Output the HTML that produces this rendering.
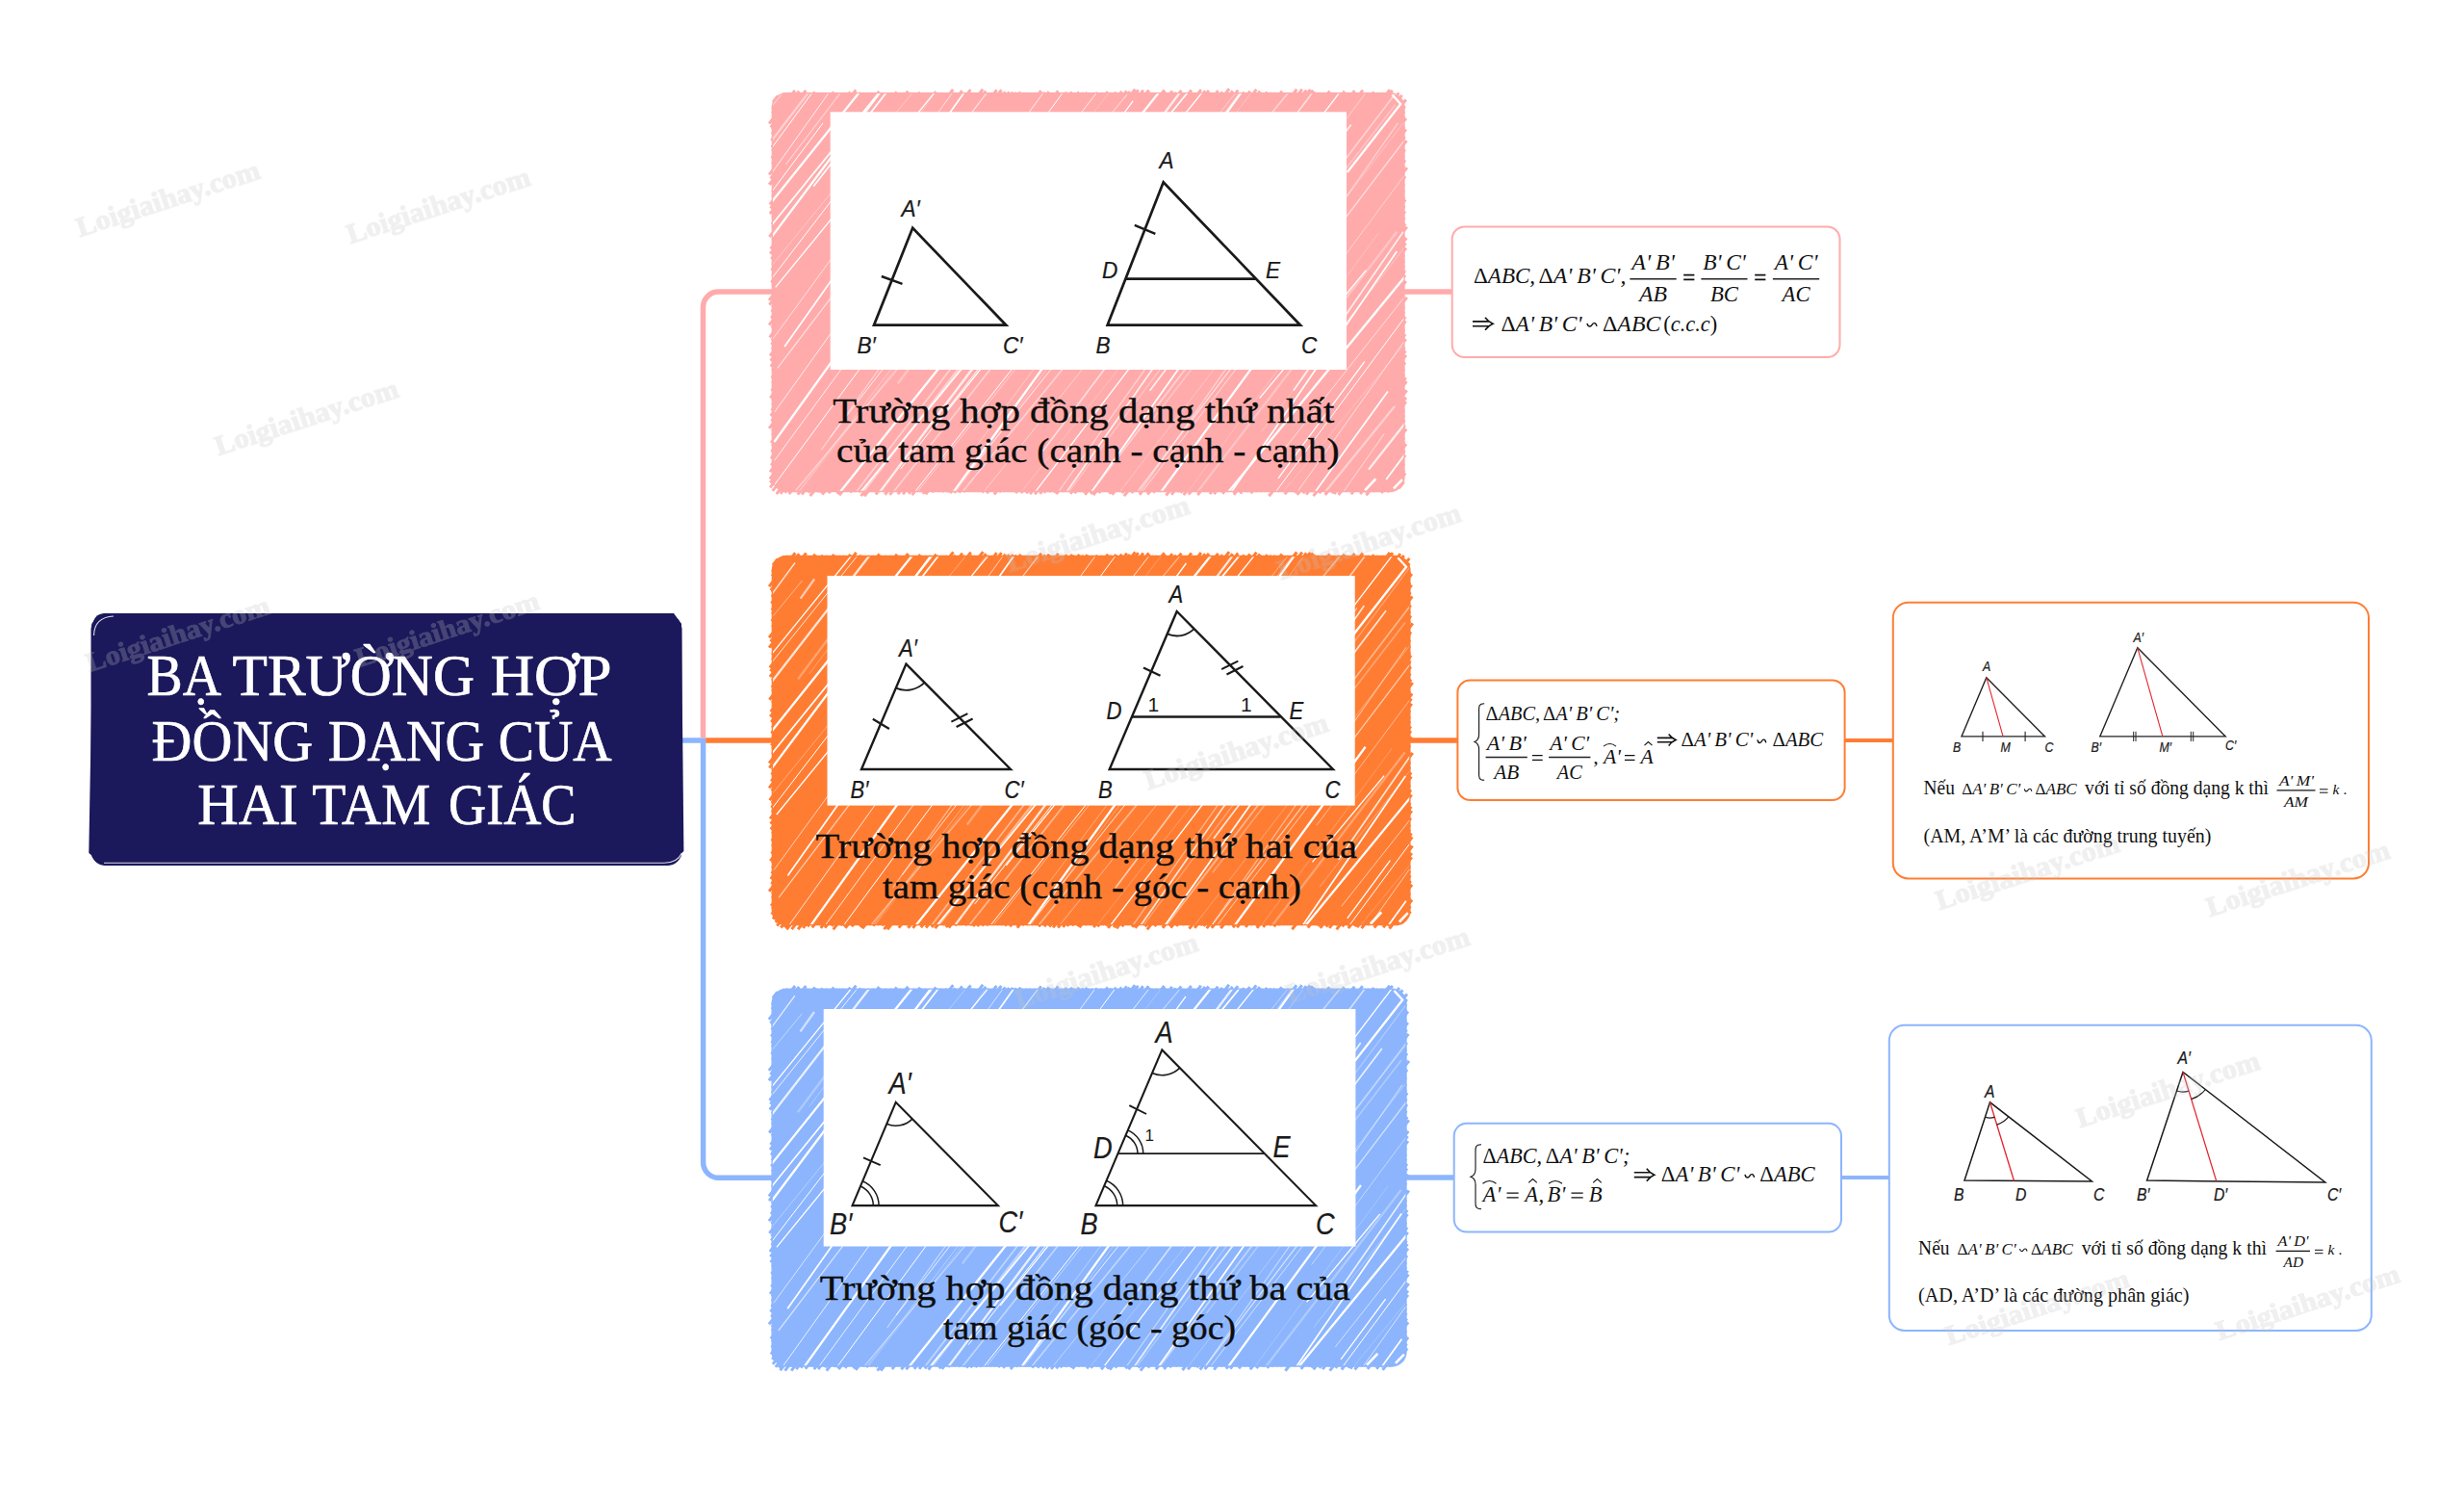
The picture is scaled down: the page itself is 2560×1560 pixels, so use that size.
<!DOCTYPE html>
<html lang="vi"><head><meta charset="utf-8"><title>Ba trường hợp đồng dạng của hai tam giác</title>
<style>html,body{margin:0;padding:0;background:#fff}body{width:2560px;height:1560px;overflow:hidden}svg{display:block}text{white-space:pre}.s{font-family:"Liberation Serif",serif}.n{font-family:"Liberation Sans",sans-serif}</style>
</head><body>
<svg width="2560" height="1560" viewBox="0 0 2560 1560">
<rect width="2560" height="1560" fill="#fff"/>
<g fill="none" stroke-width="5.5">
<path d="M709 769H730.6V1207.3a16 16 0 0 0 16 16H804" stroke="#8cb5fd"/>
<path d="M730.5 766.3V319a16 16 0 0 1 16-16H804" stroke="#ffabab"/>
<path d="M733.2 769H804" stroke="#ff7d33"/>
<path d="M1459 303H1509" stroke="#ffabab"/>
<path d="M1465 769H1515" stroke="#ff7d33"/>
<path d="M1461 1223H1511" stroke="#8cb5fd"/>
</g>
<g fill="none" stroke-width="4">
<path d="M1917 769H1967" stroke="#ff7d33"/>
<path d="M1914 1223H1963" stroke="#8cb5fd"/>
</g>
<rect x="95" y="639" width="613" height="259.5" rx="14" fill="#1b185b" stroke="#1b185b" stroke-width="1"/>
<path d="M108 637H700L708 648L710.4 884L698 895.6H104L92.3 886L96.5 650Q97 638 108 637Z" fill="#1b185b"/>
<path d="M97.5 660Q98 641 118 640" fill="none" stroke="#fff" stroke-width="1.2" opacity=".85"/>
<path d="M108 896.3H690Q704 896 708.3 886" fill="none" stroke="#fff" stroke-width="1.1" opacity=".85"/>
<text x="152.5" y="722.1" class="s" font-size="61.8" textLength="77.5" lengthAdjust="spacingAndGlyphs" fill="#fff" stroke="#fff" stroke-width="0.7">BẠ</text>
<text x="241.5" y="722.1" class="s" font-size="61.8" textLength="251.4" lengthAdjust="spacingAndGlyphs" fill="#fff" stroke="#fff" stroke-width="0.7">TRƯỜNG</text>
<text x="509.5" y="722.1" class="s" font-size="61.8" textLength="126.2" lengthAdjust="spacingAndGlyphs" fill="#fff" stroke="#fff" stroke-width="0.7">HỢP</text>
<text x="157.6" y="790" class="s" font-size="61.8" textLength="167.6" lengthAdjust="spacingAndGlyphs" fill="#fff" stroke="#fff" stroke-width="0.7">ĐỒNG</text>
<text x="340.8" y="790" class="s" font-size="61.8" textLength="162.4" lengthAdjust="spacingAndGlyphs" fill="#fff" stroke="#fff" stroke-width="0.7">DẠNG</text>
<text x="517.8" y="790" class="s" font-size="61.8" textLength="117.9" lengthAdjust="spacingAndGlyphs" fill="#fff" stroke="#fff" stroke-width="0.7">CỦA</text>
<text x="205.2" y="856.2" class="s" font-size="61.8" textLength="104.5" lengthAdjust="spacingAndGlyphs" fill="#fff" stroke="#fff" stroke-width="0.7">HAI</text>
<text x="324.3" y="856.2" class="s" font-size="61.8" textLength="123.1" lengthAdjust="spacingAndGlyphs" fill="#fff" stroke="#fff" stroke-width="0.7">TAM</text>
<text x="466" y="856.2" class="s" font-size="61.8" textLength="132.5" lengthAdjust="spacingAndGlyphs" fill="#fff" stroke="#fff" stroke-width="0.7">GIÁC</text>
<clipPath id="cp1"><rect x="802.3" y="96.7" width="656.7" height="413.8" rx="15"/></clipPath>
<rect x="802.3" y="96.7" width="656.7" height="413.8" rx="15" fill="#ffabab"/>
<path d="M803 106.2L807.7 100.2M803.8 105.1L808 99.8M802.3 113.1L807.2 106.8M809.9 103.4L815 96.8M802.2 117.6L807.2 111.1M813.3 103.4L818.2 97.1M799.1 128.3L807.2 117.8M818.5 103.4L825.9 93.9M800.7 132.3L807.2 124M823.3 103.4L830.1 94.7M802.3 134.6L807.2 128.3M826.7 103.4L831.6 97.1M801.9 139.2L807.2 132.4M829.9 103.4L837.3 93.9M801.4 146L807.2 138.6M834.7 103.4L839.6 97.1M801.8 152.8L807.2 145.9M840.4 103.4L846.7 95.3M802.3 157L807.2 150.7M844.2 103.4L849.1 97.1M801.7 164.3L807.2 157.2M849.3 103.4L854.8 96.4M802.3 170.3L807.2 164M854.6 103.4L859.5 97.1M799.1 181.4L807.2 171.1M860.1 103.4L866.3 95.4M800.6 185.6L807.2 177.2M864.9 103.4L869.8 97.1M799.1 191.8L807.2 181.5M868.2 103.4L873.2 97.1M802.3 192.7L807.2 186.4M872 103.4L877 97.1M802.3 199.3L807.2 193M877.2 103.4L883.4 95.5M802.3 204.8L807.2 198.5M881.5 103.4L889.3 93.5M799.8 212.5L807.2 203M885 103.4L889.9 97.1M800.5 216.4L807.2 207.9M888.9 103.4L894.5 96.2M799.9 222L807.2 212.6M892.6 103.4L897.5 97.1M802.3 226.2L807.2 219.9M898.3 103.4L903.2 97.1M802 233.2L807.2 226.5M903.4 103.4L908.3 97.1M802.3 237.1L807.2 230.8M906.8 103.4L913.4 94.9M799.4 246L807.2 236.1M910.9 103.4L915.9 96.9M802.3 249.2L807.2 242.9M916.2 103.4L921.2 97.1M800.7 258.3L807.2 249.9M921.7 103.4L926.6 97.1M800.2 263.6L807.2 254.6M925.4 103.4L931.7 95.3M801.3 269.2L807.2 261.6M930.8 103.4L935.7 97.1M802.3 275L807.2 268.7M936.4 103.4L943.3 94.6M801.5 280.9L807.2 273.6M940.2 103.4L945.2 97.1M802.3 286.3L807.2 280M945.2 103.4L950.2 97.1M801.3 293.5L807.2 285.9M949.8 103.4L955.9 95.6M802.3 296.9L807.2 290.6M953.5 103.4L958.4 97.1M802.3 302.4L807.2 296.1M957.8 103.4L962.7 97.1M799.1 311.9L807.2 301.4M961.9 103.4L966.9 97.1M799.3 316.7L807.2 306.6M966 103.4L972.4 95.2M802.3 318.9L807.2 312.6M971 103L975.9 96.7M801.6 323.9L807.2 316.7M973.9 103.4L978.8 97.1M801.2 330.5L807.2 322.8M978.7 103.4L983.8 96.8M799.1 337.6L807.2 327.2M982 103.4L990.2 93M801.8 340.4L807.2 333.5M987 103.4L992.5 96.3M799.6 350.3L807.2 340.5M992.5 103.4L999.6 94.2M801.8 353.4L807.2 346.4M997.4 103L1002.6 96.4M801.5 358L807.2 350.7M1000.5 103.4L1008.4 93.2M802 362.8L807.2 356.1M1004.6 103.4L1010 96.6M800.1 369.5L807.2 360.4M1008.3 103L1013.2 96.7M800.6 374.8L807.2 366.4M1012.7 103.4L1021.1 92.7M800.8 380.6L807.2 372.5M1017.4 103.4L1024.2 94.7M802.3 385L807.2 378.7M1022.3 103.4L1027.3 97.1M801.7 392.7L807.2 385.7M1028.1 103L1035.6 93.4M802.3 398.2L807.2 391.9M1033 103L1040.5 93.4M801.6 406L807.2 398.9M1038.1 103.4L1044.4 95.3M800.3 413.4L807.2 404.5M1042.8 103L1048.7 95.5M802.3 415.8L807.2 409.5M1046.4 103.4L1052.4 95.7M802.3 420.8L807.2 414.5M1050.2 103.4L1055.9 96.2M801.7 426.6L807.2 419.5M1054.2 103.4L1060.4 95.5M800.7 432L807.2 423.7M1057.5 103.4L1062.4 97.1M801.5 437.4L807.2 430.1M1062.4 103.4L1067.4 97.1M799.1 444.9L807.2 434.6M1066.3 103L1071.2 96.7M802.3 447.6L807.2 441.3M1071.2 103.4L1076.2 97.1M802.2 452L807.2 445.5M1074.5 103.4L1081.7 94.3M801.1 460L807.2 452.2M1079.8 103.4L1085.6 95.9M802.3 463.2L807.2 456.9M1083.4 103.4L1089.8 95.2M801.5 469.2L807.2 461.8M1087.2 103.4L1092.2 97M801 476.3L807.2 468.3M1092.3 103.4L1099.3 94.4M801.1 483.3L807.2 475.4M1098.2 103L1103.1 96.7M800 490.2L807.2 480.9M1102.2 103.4L1108.2 95.7M799.8 497.4L807.2 487.9M1107.6 103.4L1113.7 95.5M800.2 501.5L807.5 492.2M1111.3 103.4L1116.4 96.9M800.1 506.4L808.8 495.4M1115 103.4L1121.2 95.5M802.7 509.8L811.2 498.9M1120.5 103L1125.9 96.2M808 507.3L813.2 500.6M1123.6 103.4L1129.5 95.8M806.7 513.1L815.2 502.2M1126.8 103.4L1131.7 97.1M810.9 512.9L818.3 503.4M1130.8 103.4L1135.8 97.1M815.3 511.8L821.6 503.8M1134.7 103L1140.2 96M819.8 513.2L826.8 504.2M1140 103.4L1144.9 97.1M826.4 510.5L831.3 504.2M1144.5 103.4L1150.9 95.2M828.7 513.7L836.1 504.2M1149.3 103.4L1154.6 96.6M833 513.5L840.3 504.2M1153.4 103.4L1159.5 95.6M840 511.7L845.9 504.2M1159.3 103L1165.6 95M841.7 515.2L850.3 504.2M1163.5 103.4L1170.6 94.3M849.2 511L854.5 504.2M1168 103L1174 95.2M852.1 511.6L857.9 504.2M1171.3 103L1179.4 92.6M854.3 513.7L861.7 504.2M1175.2 103L1182.7 93.4M860.9 512.2L867.2 504.2M1180.6 103L1187.9 93.7M867.8 510.5L872.7 504.2M1186.2 103L1193.5 93.6M869.8 512.8L876.5 504.2M1189.9 103L1195.5 95.9M872 514.3L879.9 504.2M1193.3 103L1198.3 96.7M879.4 510.5L884.4 504.2M1197.8 103L1202.7 96.7M883.2 511.5L888.9 504.2M1202.3 103L1209.8 93.5M887.5 510.5L892.5 504.2M1205.9 103L1211.6 95.8M892.3 511.2L897.8 504.2M1211.2 103L1218 94.3M894.5 515.1L903 504.2M1216.5 103L1222 95.9M898.1 515.2L906.8 504.2M1220.2 103L1227.4 93.8M906.8 510.5L911.8 504.2M1225.2 103L1230.1 96.7M909.8 513.5L917.1 504.2M1230.5 103L1237.9 93.5M917 510.5L922 504.2M1235.4 103L1240.3 96.7M919.4 513.7L926.9 504.2M1240.3 103L1247.9 93.2M924.5 513.8L932 504.2M1245.4 103L1252.2 94.4M930.5 510.5L935.4 504.2M1248.9 103L1255.9 94M932.8 513.2L939.9 504.2M1253.3 103L1258.3 96.7M938 513.4L945.2 504.2M1258.6 103L1265.6 94.1M944 512.9L950.8 504.2M1264.2 103L1270.2 95.4M947.5 514.1L955.3 504.2M1268.7 103L1277.1 92.3M955.7 510.5L960.6 504.2M1274 103L1280.8 94.4M958.8 512.9L965.6 504.2M1279.1 103L1286.3 93.7M961.7 513.4L968.8 504.2M1282.3 103L1287.3 96.6M968.1 511.2L973.6 504.2M1287.1 103L1292.8 95.6M973.9 510.5L978.8 504.2M1292.3 103L1298.8 94.7M978.8 511L984.1 504.2M1297.5 103L1305.4 92.9M983.8 511L989.2 504.2M1302.6 103L1309.1 94.7M987.1 512.1L993.2 504.2M1306.7 103L1311.6 96.7M991.3 511.9L997.3 504.2M1310.7 103L1316.7 95.3M996.4 511.6L1002.2 504.2M1315.6 103L1320.9 96.2M1000.9 511.2L1006.3 504.2M1319.8 103L1324.9 96.4M1007.1 510.5L1012 504.2M1325.4 103L1332 94.7M1011.2 510.5L1016.2 504.2M1329.6 103L1334.5 96.7M1015.4 510.5L1020.3 504.2M1333.7 103L1338.7 96.7M1020.1 511.5L1025.8 504.2M1339.2 103L1347.3 92.7M1025.2 512.2L1031.5 504.2M1344.9 103L1352.9 92.8M1031.6 510.5L1036.6 504.2M1350 103L1357.3 93.6M1032.9 513.5L1040.1 504.2M1353.6 103L1361.4 93M1038.1 511L1043.5 504.2M1356.9 103L1364.2 93.7M1042.6 510.5L1047.6 504.2M1361 103L1366.7 95.7M1047.6 510.5L1052.6 504.2M1366 103L1370.9 96.7M1051.4 510.5L1056.4 504.2M1369.8 103L1374.7 96.7M1055.2 512.2L1061.4 504.2M1374.9 103L1381.5 94.6M1060.9 512.1L1067.1 504.2M1380.6 103L1385.5 96.7M1066.2 512.4L1072.6 504.2M1386 103L1391 96.7M1070.1 513.2L1077.1 504.2M1390.5 103L1397 94.8M1075.1 513.4L1082.3 504.2M1395.8 103L1400.7 96.7M1080.4 512.8L1087.1 504.2M1400.5 103L1407.5 94.1M1084.6 511.8L1090.6 504.2M1404 103L1409 96.7M1089.8 511.2L1095.2 504.2M1408.7 103L1415.9 93.7M1095 511.6L1100.8 504.2M1414.3 103L1419.2 96.7M1097.4 513.1L1104.3 504.2M1417.7 103L1422.7 96.6M1103 510.8L1108.2 504.2M1421.6 103L1427.6 95.4M1108.3 510.5L1113.2 504.2M1426.7 103L1431.6 96.7M1112.1 512.9L1118.9 504.2M1432.3 103L1437.3 96.7M1116.4 512.3L1122.8 504.2M1436.2 103L1444 93.1M1121.2 510.5L1126.1 504.2M1439.2 103.4L1446.7 93.8M1125 511.4L1130.7 504.2M1443.5 103.8L1448.4 97.5M1127.2 513.8L1134.7 504.2M1446.3 105.4L1453.4 96.3M1133.1 513L1140 504.2M1449.7 107.7L1456.6 98.9M1136 514.2L1143.8 504.2M1451.6 110.2L1456.9 103.4M1141.6 512.1L1147.8 504.2M1453.2 113.3L1460.8 103.5M1147 510.5L1151.9 504.2M1453.8 117.8L1459.7 110.3M1150.3 510.5L1155.3 504.2M1454.1 121.7L1459.1 115.3M1152.4 512.8L1159.2 504.2M1454.1 126.8L1459 120.5M1155.4 513.7L1162.9 504.2M1454.1 131.5L1460.9 122.8M1162.9 510.5L1167.8 504.2M1454.1 137.8L1459 131.5M1165.7 512.1L1171.9 504.2M1454.1 143.1L1460.8 134.4M1167.9 515.2L1176.5 504.2M1454.1 149L1459.6 141.9M1175.6 512L1181.7 504.2M1454.1 155.6L1461.4 146.2M1182.3 510.5L1187.2 504.2M1454.1 162.6L1459.8 155.3M1183.9 513.7L1191.4 504.2M1454.1 167.9L1459 161.6M1190.6 511.1L1196 504.2M1454.1 173.8L1460 166.3M1192.3 513.5L1199.6 504.2M1454.1 178.5L1459 172.2M1198.1 511.8L1204.1 504.2M1454.1 184.2L1461.9 174.2M1204.4 510.5L1209.3 504.2M1454.1 190.9L1460.1 183.1M1209.5 510.5L1214.5 504.2M1454.1 197.5L1459 191.2M1211.5 514.5L1219.5 504.2M1454.1 204L1459 197.7M1217.1 513.7L1224.6 504.2M1454.1 210.4L1459 204.1M1223.1 510.9L1228.3 504.2M1454.1 215.2L1460.2 207.3M1226.4 511.8L1232.3 504.2M1454.1 220.4L1459.4 213.6M1229.7 514L1237.3 504.2M1454.1 226.8L1459.9 219.3M1234.8 513.6L1242.2 504.2M1454.1 233L1459.4 226.2M1242.7 510.7L1247.8 504.2M1454.1 240.2L1460.2 232.3M1244.3 514.1L1252 504.2M1454.1 245.6L1461.8 235.7M1251.2 510.5L1256.2 504.2M1454.1 250.9L1459 244.6M1255.5 510.5L1260.4 504.2M1454.1 256.3L1461.3 247.1M1256.9 513.1L1263.9 504.2M1454.1 260.8L1460.6 252.4M1261.3 513.1L1268.2 504.2M1454.1 266.3L1460.9 257.5M1266.9 510.5L1271.9 504.2M1454.1 271L1459 264.7M1270.1 512.8L1276.9 504.2M1454.1 277.4L1459 271.1M1275.6 510.5L1280.5 504.2M1454.1 282L1459 275.7M1280.3 511L1285.6 504.2M1454.1 288.5L1459.9 281.1M1281.9 513.8L1289.4 504.2M1454.1 293.5L1460 285.9M1288.4 512.7L1295 504.2M1454.1 300.6L1460.8 292M1295 510.9L1300.2 504.2M1454.1 307.3L1459 301M1299.6 512.3L1305.9 504.2M1454.1 314.6L1459 308.3M1304 510.8L1309.1 504.2M1454.1 318.7L1461.8 308.8M1308.9 510.5L1313.8 504.2M1454.1 324.7L1459 318.4M1312.9 510.5L1317.8 504.2M1454.1 329.8L1459 323.5M1318.6 510.5L1323.5 504.2M1454.1 337.1L1460.3 329.1M1318.4 515.2L1327.1 504.2M1454.1 341.6L1460.5 333.4M1327.4 510.5L1332.3 504.2M1454.1 348.4L1459 342.1M1332.4 510.5L1337.3 504.2M1454.1 354.8L1460.1 347.1M1334.8 513.4L1342 504.2M1454.1 360.7L1460.7 352.2M1342.6 510.5L1347.5 504.2M1454.1 367.8L1459.4 360.9M1345.3 511.8L1351.2 504.2M1454.1 372.5L1460.4 364.4M1347.7 513.8L1355.1 504.2M1454.1 377.6L1460.9 368.9M1353.8 512.4L1360.1 504.2M1454.1 384L1460 376.4M1357.1 513.7L1364.5 504.2M1454.1 389.5L1459 383.2M1363.5 510.7L1368.6 504.2M1454.1 394.8L1459 388.5M1364.6 515.2L1373.2 504.2M1454.1 400.7L1460.7 392.2M1370.6 512.3L1376.9 504.2M1454.1 405.4L1461.4 396M1375.6 510.9L1380.8 504.2M1454.1 410.5L1459 404.1M1376.8 514L1384.5 504.2M1454.1 415.2L1461.7 405.4M1383.4 512L1389.5 504.2M1454.1 421.6L1460.9 412.8M1386 513.1L1392.9 504.2M1454.1 425.9L1460.9 417.2M1390.6 514L1398.2 504.2M1454.1 432.7L1459 426.4M1397.1 510.5L1402 504.2M1454.1 437.5L1459 431.2M1401.3 510.5L1406.2 504.2M1454.1 442.9L1459.4 436.1M1403.8 513.4L1411 504.2M1454.1 449.1L1459.8 441.8M1410.3 510.5L1415.2 504.2M1454.1 454.5L1461.1 445.5M1413.2 513.2L1420.2 504.2M1454.1 460.8L1459 454.5M1417.7 511.4L1423.4 504.2M1454.1 464.9L1459 458.6M1419.5 514.4L1427.5 504.2M1454.1 470.2L1461.1 461.2M1425.9 510.8L1431.1 504.2M1454.1 474.8L1459.5 467.8M1430.6 510.5L1435.5 504.2M1454.1 480.5L1460.2 472.7M1435.1 512L1441.2 504.2M1454.1 487.7L1459 481.4M1441.4 511.2L1446.8 504.2M1454.1 494.9L1459 488.6M1445.6 510.1L1450.5 503.8M1454.1 499.2L1460.2 491.4M1453.3 507.2L1457.5 501.9M1453.5 507L1458.6 500.5" stroke="#ffabab" stroke-width="3" fill="none"/>
<g clip-path="url(#cp1)" stroke="#fff" fill="none">
<path d="M798.6 114.4L815.9 93.4M1182.5 516.3L1373.4 266.4M1327.6 475L1463.2 303.4M1391.7 516.5L1438.2 450.5" stroke-width="1" opacity="0.6"/>
<path d="M798.8 149.7L843 92.2M893.1 515.7L1155.7 177.2M1373.9 514.5L1449.1 421.9" stroke-width="2.3" opacity="0.45"/>
<path d="M799.6 156.7L847.2 91.6M799.5 202.2L855 127.8M799.3 292.4L908.9 149.5M804.6 503.6L1110.4 87.9M935.7 487L1157.4 202.5M947.8 514.3L1216.6 174.8M1320.8 517.1L1460.2 328.6" stroke-width="1" opacity="1"/>
<path d="M800.6 181.5L865 90.8M804.9 427.8L1017.6 130.5M804.7 478.2L1090.6 87.3M862.4 454.3L1143 91.7M988.2 513.7L1298.2 124.7" stroke-width="0.8" opacity="1"/>
<path d="M816.4 170.8L876.6 92M853.3 467.4L1036.9 209.8M826.7 509.5L1171.1 98.1M1091.9 521.8L1354.7 150M1175.9 522.8L1452.5 127.6" stroke-width="1.3" opacity="0.45"/>
<path d="M797.9 214.5L895.2 92.9M800.1 248.1L917.8 91.2M804.4 459L1002.6 182.3M870.8 513.5L1205.9 93.7M983.1 521.5L1297 85.7M1200.8 518.4L1394.7 253.5M1274.5 513L1465.5 280.2" stroke-width="2.3" opacity="1"/>
<path d="M797.3 239.2L915.5 93.4M845.3 193.5L923.9 92.2M815.1 359.9L1007.8 87.5M894 511.4L1234.2 95.8M1127.1 520.6L1345.8 211.8M1272.5 521L1451.3 261M1362.1 516.8L1441.9 406.4M1440.2 497.9L1462.3 468.3" stroke-width="1.7" opacity="1"/>
<path d="M796.7 282.2L950 93.9M824.3 517.7L1115.4 132M1014 464L1293.4 88.6" stroke-width="0.8" opacity="0.45"/>
<path d="M805.7 298.4L972.6 94.2M1012.9 328.6L1177.1 104.8M970.4 443.8L1250.9 93.7M1070.8 517.2L1396.4 90M1308.6 413.6L1419.3 280.6M1328 496.8L1417.7 375.7" stroke-width="1.3" opacity="1"/>
<path d="M863 251L976.5 89.2M826.7 515.8L1155.6 91.8M1058.3 514.5L1337.6 160.8M1228.6 518.2L1431.9 242.5M1330.8 513.7L1457.7 359" stroke-width="0.8" opacity="0.3"/>
<path d="M802.8 352.2L994.8 89.2M1342.8 518L1459 354.4" stroke-width="0.8" opacity="0.8"/>
<path d="M807.7 382.4L1029.4 90.9M1176.8 517.1L1460.2 144.3" stroke-width="1.3" opacity="0.6"/>
<path d="M932.9 398.2L1048.9 244.4M1240 516.2L1451.2 240.8" stroke-width="2.3" opacity="0.3"/>
<path d="M885.4 516.3L1131.1 196.3M925.5 514.4L1221.5 139.6M999.3 511.6L1339 95.6M1129.4 517.1L1453.1 92.9" stroke-width="1.7" opacity="0.45"/>
<path d="M908.6 518.3L1231.3 88.9M1422 487.6L1462.8 435.9" stroke-width="2.3" opacity="0.8"/>
<path d="M951 513.5L1286.1 93.7M1020.2 513.1L1298.3 168" stroke-width="1" opacity="0.45"/>
<path d="M986.7 519.5L1306.2 87.7M1159.1 516.4L1461.2 123.6M1310.7 448.2L1462.4 252.8" stroke-width="1" opacity="0.3"/>
<path d="M1083.3 468.7L1368.8 89.3" stroke-width="1.7" opacity="0.6"/>
<path d="M1100 522.6L1365.6 142.8M1194.6 405.8L1403.7 129.6M1344 405.4L1457.9 240.8" stroke-width="1.7" opacity="0.8"/>
<path d="M1104.4 519L1425.1 88.2" stroke-width="1.3" opacity="0.3"/>
<path d="M1193.5 441.1L1449.6 108.7" stroke-width="1.7" opacity="0.3"/>
<path d="M1323.4 365L1460.4 180.4" stroke-width="0.8" opacity="0.6"/>
<path d="M1446.4 98.4L1455.2 108L1399.8 178.9" stroke-width="2.3" stroke-linejoin="miter"/>
<path d="M1447.9 507.4L1456.9 498.1M1418 509.4L1429.3 497.4" stroke-width="2.6"/>
</g>
<rect x="802.3" y="96.7" width="656.7" height="413.8" rx="15" fill="none" stroke="#ffabab" stroke-width="1.3"/>
<clipPath id="cp2"><rect x="802.3" y="577.5" width="662.6" height="383.1" rx="15"/></clipPath>
<rect x="802.3" y="577.5" width="662.6" height="383.1" rx="15" fill="#ff7d33"/>
<path d="M803 587L807.7 581M803.8 585.9L808 580.6M802.3 593.9L807.2 587.6M809.9 584.2L815 577.6M802.2 598.4L807.2 591.9M813.6 583.8L818.5 577.5M799.1 609.1L807.2 598.6M818.8 583.8L826.3 574.3M800.7 613.1L807.2 604.8M823.6 583.8L830.4 575.2M802.3 615.4L807.2 609.1M827 583.8L831.9 577.5M801.9 620L807.2 613.2M830.2 583.8L837.6 574.3M801.4 626.8L807.2 619.4M835 583.8L839.9 577.5M801.8 633.6L807.2 626.7M840.7 583.8L847 575.7M802.3 637.8L807.2 631.5M844.5 583.8L849.4 577.5M801.7 645.1L807.2 638M849.6 583.8L855.1 576.8M802.3 651.1L807.2 644.8M854.9 583.8L859.8 577.5M799.1 662.2L807.2 651.9M860.4 583.8L866.6 575.8M800.6 666.4L807.2 658M865.2 583.8L870.1 577.5M799.1 672.6L807.2 662.3M868.6 583.8L873.5 577.5M802.3 673.5L807.2 667.2M872.4 583.8L877.3 577.5M802.3 680.1L807.2 673.8M877.5 583.8L883.7 575.9M802.3 685.6L807.2 679.3M881.9 583.8L889.6 573.9M799.8 693.3L807.2 683.8M885.3 583.8L890.2 577.5M800.5 697.2L807.2 688.7M889.2 583.8L894.8 576.6M799.9 702.8L807.2 693.4M892.9 583.8L897.8 577.5M802.3 707L807.2 700.7M898.6 583.8L903.5 577.5M802 714L807.2 707.3M903.7 583.8L908.6 577.5M802.3 717.9L807.2 711.6M907.1 583.8L913.7 575.3M799.4 726.8L807.2 716.9M911.2 583.8L916.2 577.3M802.3 730L807.2 723.7M916.6 583.8L921.5 577.5M800.7 739.1L807.2 730.7M922 583.8L927 577.5M800.2 744.4L807.2 735.4M925.7 583.8L932 575.7M801.3 750L807.2 742.4M931.1 583.8L936 577.5M802.3 755.8L807.2 749.5M936.7 583.8L943.6 575M801.5 761.7L807.2 754.4M940.5 583.8L945.5 577.5M802.3 767.1L807.2 760.8M945.5 583.8L950.5 577.5M801.3 774.3L807.2 766.7M950.1 583.8L956.2 576M802.3 777.7L807.2 771.4M953.8 583.8L958.7 577.5M802.3 783.2L807.2 776.9M958.1 583.8L963 577.5M799.1 792.7L807.2 782.2M962.2 583.8L967.2 577.5M799.3 797.5L807.2 787.4M966.3 583.8L972.7 575.6M802.3 799.7L807.2 793.4M971 583.8L975.9 577.5M801.6 804.7L807.2 797.5M974.2 583.8L979.1 577.5M801.2 811.3L807.2 803.6M979 583.8L984.1 577.2M799.1 818.4L807.2 808M982.3 583.8L990.5 573.4M801.8 821.2L807.2 814.3M987.3 583.8L992.8 576.7M799.6 831.1L807.2 821.3M992.8 583.8L999.9 574.6M801.8 834.2L807.2 827.2M997.4 583.8L1002.6 577.2M801.5 838.8L807.2 831.5M1000.8 583.8L1008.7 573.6M802 843.6L807.2 836.9M1004.9 583.8L1010.3 577M800.1 850.3L807.2 841.2M1008.3 583.8L1013.2 577.5M800.6 855.6L807.2 847.2M1013 583.8L1021.4 573.1M800.8 861.4L807.2 853.3M1017.7 583.8L1024.5 575.1M802.3 865.8L807.2 859.5M1022.6 583.8L1027.6 577.5M801.7 873.5L807.2 866.5M1028.1 583.8L1035.6 574.2M802.3 879L807.2 872.7M1033 583.8L1040.5 574.2M801.6 886.8L807.2 879.7M1038.4 583.8L1044.7 575.7M800.3 894.2L807.2 885.3M1042.8 583.8L1048.7 576.3M802.3 896.6L807.2 890.3M1046.7 583.8L1052.7 576.1M802.3 901.6L807.2 895.3M1050.6 583.8L1056.2 576.6M801.7 907.4L807.2 900.3M1054.5 583.8L1060.7 575.9M800.7 912.8L807.2 904.5M1057.8 583.8L1062.7 577.5M801.5 918.2L807.2 910.9M1062.8 583.8L1067.7 577.5M799.1 925.7L807.2 915.4M1066.3 583.8L1071.2 577.5M802.3 928.4L807.2 922.1M1071.5 583.8L1076.5 577.5M802.2 932.8L807.2 926.3M1074.8 583.8L1082 574.7M801.1 940.8L807.2 933M1080.1 583.8L1085.9 576.3M802.3 944L807.2 937.7M1083.7 583.8L1090.1 575.6M801.7 949.7L807.5 942.2M1087.6 583.8L1092.5 577.4M803 954.5L809.4 946.4M1092.6 583.8L1099.6 574.8M805.8 958L812.1 950M1098.2 583.8L1103.1 577.5M807.3 961.6L814.9 951.9M1102.5 583.8L1108.5 576.2M811.3 963.5L819.1 953.5M1107.9 583.8L1114.1 575.9M815.2 963.2L822.5 953.9M1111.6 583.8L1116.7 577.3M817.2 965.3L825.9 954.3M1115.3 583.8L1121.5 575.9M822.5 965.2L831 954.3M1120.5 583.8L1125.9 577M829.3 960.9L834.4 954.3M1123.9 583.8L1129.8 576.2M829.1 965.2L837.7 954.3M1127.1 583.8L1132 577.5M834.3 963.8L841.7 954.3M1131.1 583.8L1136.1 577.5M839 962.3L845.2 954.3M1134.7 583.8L1140.2 576.8M843.8 963.3L850.8 954.3M1140.3 583.8L1145.2 577.5M850.4 960.6L855.3 954.3M1144.8 583.8L1151.2 575.6M852.7 963.8L860.1 954.3M1149.6 583.8L1154.9 577M857 963.6L864.3 954.3M1153.7 583.8L1159.8 576M864 961.8L869.9 954.3M1159.3 583.8L1165.6 575.8M865.7 965.3L874.3 954.3M1163.8 583.8L1170.9 574.7M873.2 961.1L878.5 954.3M1168 583.8L1174 576M876.1 961.7L881.9 954.3M1171.3 583.8L1179.4 573.4M878.3 963.8L885.7 954.3M1175.2 583.8L1182.7 574.2M884.9 962.3L891.2 954.3M1180.6 583.8L1187.9 574.5M891.8 960.6L896.7 954.3M1186.2 583.8L1193.5 574.4M893.7 962.9L900.4 954.3M1189.9 583.8L1195.5 576.7M896 964.4L903.9 954.3M1193.3 583.8L1198.3 577.5M903.4 960.6L908.4 954.3M1197.8 583.8L1202.7 577.5M907.1 961.6L912.9 954.3M1202.3 583.8L1209.8 574.3M911.5 960.6L916.4 954.3M1205.9 583.8L1211.6 576.6M916.3 961.3L921.8 954.3M1211.2 583.8L1218 575.1M918.5 965.2L927 954.3M1216.5 583.8L1222 576.7M922.1 965.3L930.7 954.3M1220.2 583.8L1227.4 574.6M930.8 960.6L935.8 954.3M1225.2 583.8L1230.1 577.5M933.8 963.6L941 954.3M1230.5 583.8L1237.9 574.3M941 960.6L946 954.3M1235.4 583.8L1240.3 577.5M943.4 963.8L950.9 954.3M1240.3 583.8L1247.9 574M948.4 963.9L956 954.3M1245.4 583.8L1252.2 575.2M954.5 960.6L959.4 954.3M1248.9 583.8L1255.9 574.8M956.8 963.3L963.9 954.3M1253.3 583.8L1258.3 577.5M962 963.5L969.2 954.3M1258.6 583.8L1265.6 574.9M967.9 963L974.8 954.3M1264.2 583.8L1270.2 576.2M971.5 964.2L979.2 954.3M1268.7 583.8L1277.1 573.1M979.6 960.6L984.6 954.3M1274 583.8L1280.8 575.2M982.8 963L989.6 954.3M1279.1 583.8L1286.3 574.5M985.7 963.5L992.8 954.3M1282.3 583.8L1287.3 577.4M992.1 961.3L997.6 954.3M1287.1 583.8L1292.8 576.4M997.9 960.6L1002.8 954.3M1292.3 583.8L1298.8 575.5M1002.8 961.1L1008 954.3M1297.5 583.8L1305.4 573.7M1007.8 961.1L1013.2 954.3M1302.6 583.8L1309.1 575.5M1011.1 962.2L1017.2 954.3M1306.7 583.8L1311.6 577.5M1015.3 962L1021.3 954.3M1310.7 583.8L1316.7 576.1M1020.4 961.7L1026.1 954.3M1315.6 583.8L1320.9 577M1024.9 961.3L1030.3 954.3M1319.8 583.8L1324.9 577.2M1031 960.6L1036 954.3M1325.4 583.8L1332 575.5M1035.2 960.6L1040.2 954.3M1329.6 583.8L1334.5 577.5M1039.4 960.6L1044.3 954.3M1333.7 583.8L1338.7 577.5M1044.1 961.6L1049.8 954.3M1339.2 583.8L1347.3 573.5M1049.2 962.3L1055.5 954.3M1344.9 583.8L1352.9 573.6M1055.6 960.6L1060.6 954.3M1350 583.8L1357.3 574.4M1056.9 963.6L1064.1 954.3M1353.6 583.8L1361.4 573.8M1062.1 961.1L1067.5 954.3M1356.9 583.8L1364.2 574.5M1066.6 960.6L1071.6 954.3M1361 583.8L1366.7 576.5M1071.6 960.6L1076.5 954.3M1366 583.8L1370.9 577.5M1075.4 960.6L1080.3 954.3M1369.8 583.8L1374.7 577.5M1079.2 962.3L1085.4 954.3M1374.9 583.8L1381.5 575.4M1084.9 962.2L1091.1 954.3M1380.6 583.8L1385.5 577.5M1090.2 962.5L1096.6 954.3M1386 583.8L1391 577.5M1094.1 963.3L1101.1 954.3M1390.5 583.8L1397 575.6M1099.1 963.5L1106.3 954.3M1395.8 583.8L1400.7 577.5M1104.4 962.9L1111.1 954.3M1400.5 583.8L1407.5 574.9M1108.6 961.9L1114.6 954.3M1404 583.8L1409 577.5M1113.8 961.3L1119.2 954.3M1408.7 583.8L1415.9 574.5M1119 961.7L1124.8 954.3M1414.3 583.8L1419.2 577.5M1121.3 963.2L1128.3 954.3M1417.7 583.8L1422.7 577.4M1127 960.9L1132.1 954.3M1421.6 583.8L1427.6 576.2M1132.3 960.6L1137.2 954.3M1426.7 583.8L1431.6 577.5M1136.1 963L1142.9 954.3M1432.3 583.8L1437.3 577.5M1140.4 962.4L1146.7 954.3M1436.2 583.8L1444 573.9M1145.2 960.6L1150.1 954.3M1439.6 583.8L1447 574.2M1149 961.5L1154.7 954.3M1444.1 583.8L1449.1 577.5M1151.2 963.9L1158.7 954.3M1447.9 584.2L1455 575.1M1157.1 963.1L1163.9 954.3M1451.9 585.8L1458.7 577M1160 964.3L1167.8 954.3M1454.5 587.4L1459.7 580.6M1165.6 962.2L1171.8 954.3M1456.6 589.7L1464.3 579.9M1170.9 960.6L1175.9 954.3M1458.4 592.6L1464.4 585M1174.3 960.6L1179.2 954.3M1459.4 595.8L1464.4 589.3M1176.4 962.9L1183.2 954.3M1460 600L1464.9 593.7M1179.4 963.8L1186.9 954.3M1460 604.8L1466.8 596M1186.9 960.6L1191.8 954.3M1460 611.1L1464.9 604.8M1189.7 962.2L1195.9 954.3M1460 616.3L1466.7 607.6M1191.9 965.3L1200.5 954.3M1460 622.2L1465.5 615.1M1199.6 962.1L1205.7 954.3M1460 628.9L1467.3 619.5M1206.3 960.6L1211.2 954.3M1460 635.8L1465.7 628.5M1207.9 963.8L1215.4 954.3M1460 641.2L1464.9 634.9M1214.5 961.2L1220 954.3M1460 647.1L1465.9 639.5M1216.3 963.6L1223.6 954.3M1460 651.7L1464.9 645.4M1222.1 961.9L1228.1 954.3M1460 657.5L1467.8 647.4M1228.3 960.6L1233.3 954.3M1460 664.1L1466 656.4M1233.5 960.6L1238.4 954.3M1460 670.8L1464.9 664.4M1235.5 964.6L1243.5 954.3M1460 677.2L1464.9 670.9M1241.1 963.8L1248.6 954.3M1460 683.7L1464.9 677.4M1247.1 961L1252.3 954.3M1460 688.5L1466.1 680.6M1250.4 961.9L1256.3 954.3M1460 693.6L1465.3 686.8M1253.7 964.1L1261.3 954.3M1460 700L1465.8 692.5M1258.8 963.7L1266.2 954.3M1460 706.3L1465.3 699.5M1266.7 960.8L1271.8 954.3M1460 713.4L1466.1 705.6M1268.3 964.2L1276 954.3M1460 718.9L1467.7 709M1275.2 960.6L1280.2 954.3M1460 724.1L1464.9 717.8M1279.5 960.6L1284.4 954.3M1460 729.6L1467.2 720.3M1280.9 963.2L1287.9 954.3M1460 734L1466.5 725.6M1285.2 963.2L1292.2 954.3M1460 739.6L1466.8 730.8M1290.9 960.6L1295.8 954.3M1460 744.2L1464.9 737.9M1294.1 962.9L1300.8 954.3M1460 750.6L1464.9 744.3M1299.6 960.6L1304.5 954.3M1460 755.3L1464.9 749M1304.3 961.1L1309.6 954.3M1460 761.8L1465.8 754.3M1305.9 963.9L1313.4 954.3M1460 766.7L1465.9 759.1M1312.4 962.8L1319 954.3M1460 773.9L1466.7 765.3M1319 961L1324.2 954.3M1460 780.5L1464.9 774.2M1323.6 962.4L1329.9 954.3M1460 787.8L1464.9 781.5M1328 960.9L1333.1 954.3M1460 791.9L1467.7 782M1332.9 960.6L1337.8 954.3M1460 797.9L1464.9 791.6M1336.9 960.6L1341.8 954.3M1460 803L1464.9 796.7M1342.6 960.6L1347.5 954.3M1460 810.3L1466.2 802.3M1342.4 965.3L1351.1 954.3M1460 814.9L1466.4 806.7M1351.4 960.6L1356.3 954.3M1460 821.6L1464.9 815.3M1356.4 960.6L1361.3 954.3M1460 828L1466 820.3M1358.8 963.5L1366 954.3M1460 834L1466.6 825.5M1366.5 960.6L1371.5 954.3M1460 841L1465.3 834.2M1369.3 961.9L1375.2 954.3M1460 845.7L1466.3 837.7M1371.7 963.9L1379.1 954.3M1460 850.8L1466.8 842.1M1377.7 962.5L1384.1 954.3M1460 857.2L1465.9 849.6M1381.1 963.8L1388.5 954.3M1460 862.8L1464.9 856.5M1387.5 960.8L1392.6 954.3M1460 868L1464.9 861.7M1388.6 965.3L1397.2 954.3M1460 873.9L1466.6 865.5M1394.6 962.4L1400.9 954.3M1460 878.7L1467.3 869.3M1399.6 961L1404.8 954.3M1460 883.7L1464.9 877.4M1400.8 964.1L1408.5 954.3M1460 888.4L1467.6 878.6M1407.4 962.1L1413.5 954.3M1460 894.8L1466.8 886M1410 963.2L1416.9 954.3M1460 899.2L1466.8 890.4M1414.6 964.1L1422.2 954.3M1460 906L1464.9 899.7M1421 960.6L1426 954.3M1460 910.8L1464.9 904.5M1425.2 960.6L1430.2 954.3M1460 916.2L1465.3 909.4M1427.8 963.5L1435 954.3M1460 922.3L1465.7 915M1434.3 960.6L1439.2 954.3M1460 927.7L1467 918.8M1437.1 963.3L1444.2 954.3M1460 934L1464.9 927.7M1441.7 961.5L1447.4 954.3M1460 938.2L1464.9 931.9M1443.5 964.5L1451.5 954.3M1460 943.5L1467 934.5M1450.2 960.5L1455.4 953.9M1460 948L1465.4 941M1455.5 959.4L1460.4 953.1M1459.7 954.1L1465.5 946.6" stroke="#ff7d33" stroke-width="3" fill="none"/>
<g clip-path="url(#cp2)" stroke="#fff" fill="none">
<path d="M799.2 620.9L826 584.5" stroke-width="1.3" opacity="0.8"/>
<path d="M798 646.1L833.5 603M1029.7 963.7L1340.4 574.4M1098.9 963.4L1356.7 643.5" stroke-width="1" opacity="0.45"/>
<path d="M831.7 621.7L846.2 601.3" stroke-width="2.3" opacity="0.6"/>
<path d="M797.6 684.4L887.5 573.6M806.8 846L1028.2 575.2M1080.4 792.2L1232.4 585M1045.3 898.8L1305.3 574.4M1149.1 967.1L1451.1 571M1363.5 895.3L1438.1 805.7M1399.8 953.8L1444.4 893.7" stroke-width="1.3" opacity="1"/>
<path d="M797.8 693L893.9 573.4" stroke-width="1" opacity="0.8"/>
<path d="M798.9 712L906.9 572.5M986.8 968.2L1286.1 569.9" stroke-width="2.3" opacity="0.8"/>
<path d="M829.1 705.4L899.9 610.5M1004.8 856.5L1112.3 714M1318.1 966L1459.7 781.3" stroke-width="2.3" opacity="0.3"/>
<path d="M840.9 699.8L900.1 620.4M1064.8 969.3L1361.1 568.8M1237.2 966.2L1467.5 666.9M1371.1 921.2L1468.4 795.9" stroke-width="1" opacity="0.3"/>
<path d="M797.5 764.7L950.4 573.7M800.8 799.2L971.9 571.1M836 970L1050.7 670.3M949.5 963.7L1260.2 574.4M1061 971.2L1352.1 566.9M1278.1 967.6L1418.6 775.7M1354.1 964L1470.3 822.3" stroke-width="2.3" opacity="1"/>
<path d="M796.6 789.2L970.9 574.3M865.3 718.7L978.6 572.6M818.4 909.5L1060.9 566.7M972.8 961.8L1288.3 576.3M1204.3 969.7L1382.9 717.5M1348.1 969L1460.2 806.1M1439.1 965.8L1460.8 935.8" stroke-width="1.7" opacity="1"/>
<path d="M796 832.2L1005.5 574.8M902.5 967.6L1172.5 609.9M1089.3 917.5L1348.3 569.7" stroke-width="0.8" opacity="0.45"/>
<path d="M799.5 843.1L948.3 649.2M870.2 969.7L1165.5 568.4M1012.8 938.8L1218.1 675.4M1026.4 964.5L1275.5 649.8M1398.1 966.3L1467.4 872.6" stroke-width="1" opacity="1"/>
<path d="M882.1 779.7L1030 568.7M905.2 965.9L1210.5 572.2M1136.9 964.6L1395.7 636.9M1306 967.4L1446.3 777M1410.4 964.6L1464.4 898.8" stroke-width="0.8" opacity="0.3"/>
<path d="M804 903.6L1048.5 568.7M1419.1 966.5L1467.1 899" stroke-width="0.8" opacity="0.8"/>
<path d="M809 932.3L1083.7 570.9M1254.7 966.8L1466.7 687.8" stroke-width="1.3" opacity="0.6"/>
<path d="M814.1 968.9L1065.7 617.1M850.8 970.1L1144.9 568M937.3 908.8L1197.9 572.2M1066.8 963.9L1354.1 603.4" stroke-width="0.8" opacity="1"/>
<path d="M927.9 921.7L1098.4 682.5M905.6 960L1225.4 578.1M1169.7 971.4L1410 631.4M1251.9 971L1460.9 672.5" stroke-width="1.3" opacity="0.45"/>
<path d="M963.8 966.3L1191.5 669.7M1004.1 964.6L1278.4 617.3M1078.1 962L1393.2 576.1M1207.5 966.8L1466.7 627.1" stroke-width="1.7" opacity="0.45"/>
<path d="M971.5 965.7L1215 652.1" stroke-width="2.3" opacity="0.45"/>
<path d="M1159 921.9L1423.5 570.3" stroke-width="1.7" opacity="0.6"/>
<path d="M1177.5 972L1417.3 629.1M1260.9 870.9L1440 634.3M1390.7 892.8L1465.4 785" stroke-width="1.7" opacity="0.8"/>
<path d="M1182.3 968.7L1464.2 589.9" stroke-width="1.3" opacity="0.3"/>
<path d="M1259.8 906.3L1460 646.5" stroke-width="1.7" opacity="0.3"/>
<path d="M1260.7 966.1L1402 781.1M1393.7 941.4L1468.9 846.3" stroke-width="1" opacity="0.6"/>
<path d="M1368.2 856.9L1466.9 723.9" stroke-width="0.8" opacity="0.6"/>
<path d="M1452.3 579.2L1461.1 588.8L1405.7 659.7" stroke-width="2.3" stroke-linejoin="miter"/>
<path d="M1453.8 957.5L1462.8 948.2M1423.9 959.5L1435.2 947.5" stroke-width="2.6"/>
</g>
<rect x="802.3" y="577.5" width="662.6" height="383.1" rx="15" fill="none" stroke="#ff7d33" stroke-width="1.3"/>
<clipPath id="cp3"><rect x="802.1" y="1027.2" width="658.9" height="391.8" rx="15"/></clipPath>
<rect x="802.1" y="1027.2" width="658.9" height="391.8" rx="15" fill="#8cb5fd"/>
<path d="M802.8 1036.7L807.5 1030.7M803.6 1035.6L807.8 1030.3M802.1 1043.6L807 1037.3M809.7 1033.9L814.8 1027.3M802 1048.1L807 1041.6M813.4 1033.5L818.3 1027.2M798.9 1058.8L807 1048.3M818.6 1033.5L826.1 1024M800.5 1062.8L807 1054.5M823.4 1033.5L830.2 1024.9M802.1 1065.1L807 1058.8M826.8 1033.5L831.7 1027.2M801.7 1069.7L807 1062.9M830 1033.5L837.4 1024M801.2 1076.5L807 1069.1M834.8 1033.5L839.7 1027.2M801.6 1083.3L807 1076.4M840.5 1033.5L846.8 1025.4M802.1 1087.5L807 1081.2M844.3 1033.5L849.2 1027.2M801.5 1094.8L807 1087.7M849.4 1033.5L854.9 1026.5M802.1 1100.8L807 1094.5M854.7 1033.5L859.6 1027.2M798.9 1111.9L807 1101.6M860.2 1033.5L866.4 1025.5M800.4 1116.1L807 1107.7M865 1033.5L869.9 1027.2M798.9 1122.3L807 1112M868.4 1033.5L873.3 1027.2M802.1 1123.2L807 1116.9M872.2 1033.5L877.1 1027.2M802.1 1129.8L807 1123.5M877.3 1033.5L883.5 1025.6M802.1 1135.3L807 1129M881.7 1033.5L889.4 1023.6M799.6 1143L807 1133.5M885.1 1033.5L890 1027.2M800.3 1146.9L807 1138.4M889 1033.5L894.6 1026.3M799.7 1152.5L807 1143.1M892.7 1033.5L897.6 1027.2M802.1 1156.7L807 1150.4M898.4 1033.5L903.3 1027.2M801.8 1163.7L807 1157M903.5 1033.5L908.4 1027.2M802.1 1167.6L807 1161.3M906.9 1033.5L913.5 1025M799.2 1176.5L807 1166.6M911 1033.5L916 1027M802.1 1179.7L807 1173.4M916.4 1033.5L921.3 1027.2M800.5 1188.8L807 1180.4M921.8 1033.5L926.8 1027.2M800 1194.1L807 1185.1M925.5 1033.5L931.8 1025.4M801.1 1199.7L807 1192.1M930.9 1033.5L935.8 1027.2M802.1 1205.5L807 1199.2M936.5 1033.5L943.4 1024.7M801.3 1211.4L807 1204.1M940.3 1033.5L945.3 1027.2M802.1 1216.8L807 1210.5M945.3 1033.5L950.3 1027.2M801.1 1224L807 1216.4M949.9 1033.5L956 1025.7M802.1 1227.4L807 1221.1M953.6 1033.5L958.5 1027.2M802.1 1232.9L807 1226.6M957.9 1033.5L962.8 1027.2M798.9 1242.4L807 1231.9M962 1033.5L967 1027.2M799.1 1247.2L807 1237.1M966.1 1033.5L972.5 1025.3M802.1 1249.4L807 1243.1M970.8 1033.5L975.7 1027.2M801.4 1254.4L807 1247.2M974 1033.5L978.9 1027.2M801 1261L807 1253.3M978.8 1033.5L983.9 1026.9M798.9 1268.1L807 1257.7M982.1 1033.5L990.3 1023.1M801.6 1270.9L807 1264M987.1 1033.5L992.6 1026.4M799.4 1280.8L807 1271M992.6 1033.5L999.7 1024.3M801.6 1283.9L807 1276.9M997.2 1033.5L1002.4 1026.9M801.3 1288.5L807 1281.2M1000.6 1033.5L1008.5 1023.3M801.8 1293.3L807 1286.6M1004.7 1033.5L1010.1 1026.7M799.9 1300L807 1290.9M1008.1 1033.5L1013 1027.2M800.4 1305.3L807 1296.9M1012.8 1033.5L1021.2 1022.8M800.6 1311.1L807 1303M1017.5 1033.5L1024.3 1024.8M802.1 1315.5L807 1309.2M1022.4 1033.5L1027.4 1027.2M801.5 1323.2L807 1316.2M1027.9 1033.5L1035.4 1023.9M802.1 1328.7L807 1322.4M1032.8 1033.5L1040.3 1023.9M801.4 1336.5L807 1329.4M1038.2 1033.5L1044.5 1025.4M800.1 1343.9L807 1335M1042.6 1033.5L1048.5 1026M802.1 1346.3L807 1340M1046.5 1033.5L1052.5 1025.8M802.1 1351.3L807 1345M1050.4 1033.5L1056 1026.3M801.5 1357.1L807 1350M1054.3 1033.5L1060.5 1025.6M800.5 1362.5L807 1354.2M1057.6 1033.5L1062.5 1027.2M801.3 1367.9L807 1360.6M1062.6 1033.5L1067.5 1027.2M798.9 1375.4L807 1365.1M1066.1 1033.5L1071 1027.2M802.1 1378.1L807 1371.8M1071.3 1033.5L1076.3 1027.2M802 1382.5L807 1376M1074.6 1033.5L1081.8 1024.4M800.9 1390.5L807 1382.7M1079.9 1033.5L1085.7 1026M802.1 1393.7L807 1387.4M1083.5 1033.5L1089.9 1025.3M801.6 1399.3L807.3 1391.9M1087.4 1033.5L1092.3 1027.1M801 1406.5L807.3 1398.4M1092.4 1033.5L1099.4 1024.5M802.3 1412L808.6 1403.9M1098 1033.5L1102.9 1027.2M802.9 1416.8L810.4 1407.1M1102.3 1033.5L1108.3 1025.9M805.8 1419.9L813.6 1409.9M1107.7 1033.5L1113.9 1025.6M809.1 1420.4L816.4 1411.1M1111.4 1033.5L1116.5 1027M810.5 1423.3L819.2 1412.3M1115.1 1033.5L1121.3 1025.6M815.5 1423.6L824 1412.7M1120.3 1033.5L1125.7 1026.7M822.3 1419.3L827.4 1412.7M1123.7 1033.5L1129.6 1025.9M822.1 1423.6L830.7 1412.7M1126.9 1033.5L1131.8 1027.2M827.3 1422.2L834.7 1412.7M1130.9 1033.5L1135.9 1027.2M832 1420.7L838.2 1412.7M1134.5 1033.5L1140 1026.5M836.8 1421.7L843.8 1412.7M1140.1 1033.5L1145 1027.2M843.4 1419L848.3 1412.7M1144.6 1033.5L1151 1025.3M845.7 1422.2L853.1 1412.7M1149.4 1033.5L1154.7 1026.7M850 1422L857.3 1412.7M1153.5 1033.5L1159.6 1025.7M857 1420.2L862.9 1412.7M1159.1 1033.5L1165.4 1025.5M858.7 1423.7L867.3 1412.7M1163.6 1033.5L1170.7 1024.4M866.2 1419.5L871.5 1412.7M1167.8 1033.5L1173.8 1025.7M869.1 1420.1L874.9 1412.7M1171.1 1033.5L1179.2 1023.1M871.3 1422.2L878.7 1412.7M1175 1033.5L1182.5 1023.9M877.9 1420.7L884.2 1412.7M1180.4 1033.5L1187.7 1024.2M884.8 1419L889.7 1412.7M1186 1033.5L1193.3 1024.1M886.8 1421.3L893.4 1412.7M1189.7 1033.5L1195.3 1026.4M889 1422.8L896.9 1412.7M1193.1 1033.5L1198.1 1027.2M896.4 1419L901.4 1412.7M1197.6 1033.5L1202.5 1027.2M900.1 1420L905.9 1412.7M1202.1 1033.5L1209.6 1024M904.5 1419L909.5 1412.7M1205.7 1033.5L1211.4 1026.3M909.3 1419.7L914.8 1412.7M1211 1033.5L1217.8 1024.8M911.5 1423.6L920 1412.7M1216.3 1033.5L1221.8 1026.4M915.1 1423.7L923.7 1412.7M1220 1033.5L1227.2 1024.3M923.8 1419L928.8 1412.7M1225 1033.5L1229.9 1027.2M926.8 1422L934 1412.7M1230.3 1033.5L1237.7 1024M934 1419L939 1412.7M1235.2 1033.5L1240.1 1027.2M936.4 1422.2L943.9 1412.7M1240.1 1033.5L1247.7 1023.7M941.4 1422.3L949 1412.7M1245.2 1033.5L1252 1024.9M947.5 1419L952.4 1412.7M1248.7 1033.5L1255.7 1024.5M949.8 1421.7L956.9 1412.7M1253.1 1033.5L1258.1 1027.2M955 1421.9L962.2 1412.7M1258.4 1033.5L1265.4 1024.6M960.9 1421.4L967.8 1412.7M1264 1033.5L1270 1025.9M964.5 1422.6L972.2 1412.7M1268.5 1033.5L1276.9 1022.8M972.6 1419L977.6 1412.7M1273.8 1033.5L1280.6 1024.9M975.8 1421.4L982.6 1412.7M1278.9 1033.5L1286.1 1024.2M978.7 1421.9L985.8 1412.7M1282.1 1033.5L1287.1 1027.1M985.1 1419.7L990.6 1412.7M1286.9 1033.5L1292.6 1026.1M990.9 1419L995.8 1412.7M1292.1 1033.5L1298.6 1025.2M995.8 1419.5L1001.1 1412.7M1297.3 1033.5L1305.2 1023.4M1000.8 1419.5L1006.2 1412.7M1302.4 1033.5L1308.9 1025.2M1004.1 1420.6L1010.2 1412.7M1306.5 1033.5L1311.4 1027.2M1008.3 1420.4L1014.3 1412.7M1310.5 1033.5L1316.5 1025.8M1013.4 1420.1L1019.1 1412.7M1315.4 1033.5L1320.7 1026.7M1017.9 1419.7L1023.3 1412.7M1319.6 1033.5L1324.7 1026.9M1024 1419L1029 1412.7M1325.2 1033.5L1331.8 1025.2M1028.2 1419L1033.2 1412.7M1329.4 1033.5L1334.3 1027.2M1032.4 1419L1037.3 1412.7M1333.5 1033.5L1338.5 1027.2M1037.1 1420L1042.8 1412.7M1339 1033.5L1347.1 1023.2M1042.2 1420.7L1048.5 1412.7M1344.7 1033.5L1352.7 1023.3M1048.6 1419L1053.6 1412.7M1349.8 1033.5L1357.1 1024.1M1049.9 1422L1057.1 1412.7M1353.4 1033.5L1361.2 1023.5M1055.1 1419.5L1060.5 1412.7M1356.7 1033.5L1364 1024.2M1059.6 1419L1064.6 1412.7M1360.8 1033.5L1366.5 1026.2M1064.6 1419L1069.5 1412.7M1365.8 1033.5L1370.7 1027.2M1068.4 1419L1073.3 1412.7M1369.6 1033.5L1374.5 1027.2M1072.2 1420.7L1078.4 1412.7M1374.7 1033.5L1381.3 1025.1M1077.9 1420.6L1084.1 1412.7M1380.4 1033.5L1385.3 1027.2M1083.2 1420.9L1089.6 1412.7M1385.8 1033.5L1390.8 1027.2M1087.1 1421.7L1094.1 1412.7M1390.3 1033.5L1396.8 1025.3M1092.1 1421.9L1099.3 1412.7M1395.6 1033.5L1400.5 1027.2M1097.4 1421.3L1104.1 1412.7M1400.3 1033.5L1407.3 1024.6M1101.6 1420.3L1107.6 1412.7M1403.8 1033.5L1408.8 1027.2M1106.8 1419.7L1112.2 1412.7M1408.5 1033.5L1415.7 1024.2M1112 1420.1L1117.8 1412.7M1414.1 1033.5L1419 1027.2M1114.3 1421.6L1121.3 1412.7M1417.5 1033.5L1422.5 1027.1M1120 1419.3L1125.1 1412.7M1421.4 1033.5L1427.4 1025.9M1125.3 1419L1130.2 1412.7M1426.5 1033.5L1431.4 1027.2M1129.1 1421.4L1135.9 1412.7M1432.1 1033.5L1437.1 1027.2M1133.4 1420.8L1139.7 1412.7M1436 1033.5L1443.8 1023.6M1138.2 1419L1143.1 1412.7M1439.4 1033.5L1446.8 1023.9M1142 1419.9L1147.7 1412.7M1443.6 1033.9L1448.5 1027.6M1144.2 1422.3L1151.7 1412.7M1446.7 1035.1L1453.9 1026M1150.1 1421.5L1156.9 1412.7M1450.4 1037.1L1457.3 1028.3M1153 1422.7L1160.8 1412.7M1452.7 1039.1L1458 1032.3M1158.6 1420.6L1164.8 1412.7M1454.2 1042.2L1461.9 1032.4M1164 1419L1168.9 1412.7M1455.8 1045.5L1461.8 1037.8M1167.3 1419L1172.2 1412.7M1456.1 1049.4L1461.1 1043M1169.4 1421.3L1176.2 1412.7M1456.1 1054.4L1461 1048.1M1172.4 1422.2L1179.9 1412.7M1456.1 1059.2L1462.9 1050.5M1179.9 1419L1184.8 1412.7M1456.1 1065.5L1461 1059.2M1182.7 1420.6L1188.9 1412.7M1456.1 1070.7L1462.8 1062.1M1184.9 1423.7L1193.5 1412.7M1456.1 1076.6L1461.6 1069.5M1192.6 1420.5L1198.7 1412.7M1456.1 1083.3L1463.4 1073.9M1199.3 1419L1204.2 1412.7M1456.1 1090.3L1461.8 1082.9M1200.9 1422.2L1208.4 1412.7M1456.1 1095.6L1461 1089.3M1207.5 1419.6L1213 1412.7M1456.1 1101.5L1462 1094M1209.3 1422L1216.6 1412.7M1456.1 1106.2L1461 1099.9M1215.1 1420.3L1221.1 1412.7M1456.1 1111.9L1463.9 1101.8M1221.3 1419L1226.3 1412.7M1456.1 1118.6L1462.1 1110.8M1226.5 1419L1231.4 1412.7M1456.1 1125.2L1461 1118.9M1228.5 1423L1236.5 1412.7M1456.1 1131.6L1461 1125.3M1234.1 1422.2L1241.6 1412.7M1456.1 1138.1L1461 1131.8M1240.1 1419.4L1245.3 1412.7M1456.1 1142.9L1462.2 1135M1243.4 1420.3L1249.3 1412.7M1456.1 1148.1L1461.4 1141.2M1246.7 1422.5L1254.3 1412.7M1456.1 1154.5L1461.9 1147M1251.8 1422.1L1259.2 1412.7M1456.1 1160.7L1461.4 1153.9M1259.7 1419.2L1264.8 1412.7M1456.1 1167.9L1462.2 1160M1261.3 1422.6L1269 1412.7M1456.1 1173.3L1463.8 1163.4M1268.2 1419L1273.2 1412.7M1456.1 1178.6L1461 1172.3M1272.5 1419L1277.4 1412.7M1456.1 1184L1463.3 1174.8M1273.9 1421.6L1280.9 1412.7M1456.1 1188.4L1462.6 1180.1M1278.2 1421.6L1285.2 1412.7M1456.1 1194L1462.9 1185.2M1283.9 1419L1288.8 1412.7M1456.1 1198.7L1461 1192.4M1287.1 1421.3L1293.8 1412.7M1456.1 1205L1461 1198.7M1292.6 1419L1297.5 1412.7M1456.1 1209.7L1461 1203.4M1297.3 1419.5L1302.6 1412.7M1456.1 1216.2L1461.9 1208.8M1298.9 1422.3L1306.4 1412.7M1456.1 1221.1L1462 1213.6M1305.4 1421.2L1312 1412.7M1456.1 1228.3L1462.8 1219.7M1312 1419.4L1317.2 1412.7M1456.1 1235L1461 1228.7M1316.6 1420.8L1322.9 1412.7M1456.1 1242.2L1461 1235.9M1321 1419.3L1326.1 1412.7M1456.1 1246.3L1463.8 1236.5M1325.9 1419L1330.8 1412.7M1456.1 1252.4L1461 1246.1M1329.9 1419L1334.8 1412.7M1456.1 1257.5L1461 1251.2M1335.6 1419L1340.5 1412.7M1456.1 1264.8L1462.3 1256.8M1335.4 1423.7L1344.1 1412.7M1456.1 1269.3L1462.5 1261.1M1344.4 1419L1349.3 1412.7M1456.1 1276L1461 1269.7M1349.4 1419L1354.3 1412.7M1456.1 1282.4L1462.1 1274.8M1351.8 1421.9L1359 1412.7M1456.1 1288.4L1462.7 1279.9M1359.5 1419L1364.5 1412.7M1456.1 1295.4L1461.4 1288.6M1362.3 1420.3L1368.2 1412.7M1456.1 1300.2L1462.4 1292.1M1364.7 1422.3L1372.1 1412.7M1456.1 1305.3L1462.9 1296.6M1370.7 1420.9L1377.1 1412.7M1456.1 1311.6L1462 1304M1374.1 1422.2L1381.5 1412.7M1456.1 1317.2L1461 1310.9M1380.5 1419.2L1385.6 1412.7M1456.1 1322.5L1461 1316.2M1381.6 1423.7L1390.2 1412.7M1456.1 1328.4L1462.7 1319.9M1387.6 1420.8L1393.9 1412.7M1456.1 1333.1L1463.4 1323.7M1392.6 1419.4L1397.8 1412.7M1456.1 1338.1L1461 1331.8M1393.8 1422.5L1401.5 1412.7M1456.1 1342.8L1463.7 1333.1M1400.4 1420.5L1406.5 1412.7M1456.1 1349.3L1462.9 1340.5M1403 1421.6L1409.9 1412.7M1456.1 1353.6L1462.9 1344.9M1407.6 1422.5L1415.2 1412.7M1456.1 1360.4L1461 1354.1M1414 1419L1419 1412.7M1456.1 1365.2L1461 1358.9M1418.2 1419L1423.2 1412.7M1456.1 1370.6L1461.4 1363.8M1420.8 1421.9L1428 1412.7M1456.1 1376.7L1461.8 1369.5M1427.3 1419L1432.2 1412.7M1456.1 1382.1L1463.1 1373.2M1430.1 1421.7L1437.2 1412.7M1456.1 1388.5L1461 1382.2M1434.7 1419.9L1440.4 1412.7M1456.1 1392.6L1461 1386.3M1436.5 1422.9L1444.5 1412.7M1456.1 1397.9L1463.1 1388.9M1442.9 1419.3L1448.1 1412.7M1456.1 1402.5L1461.5 1395.5M1447.9 1418.6L1452.8 1412.3M1456.1 1408.2L1462.2 1400.3" stroke="#8cb5fd" stroke-width="3" fill="none"/>
<g clip-path="url(#cp3)" stroke="#fff" fill="none">
<path d="M799 1070.6L825.8 1034.2" stroke-width="1.3" opacity="0.8"/>
<path d="M797.8 1095.8L833.3 1052.7M1022.6 1422.1L1340.3 1024.1M1091.9 1421.7L1355.4 1094.7" stroke-width="1" opacity="0.45"/>
<path d="M831.5 1071.4L846 1051" stroke-width="2.3" opacity="0.6"/>
<path d="M797.4 1134.1L887.3 1023.3M806.9 1295.3L1028 1024.9M1076.5 1246.7L1232 1034.8M1039.3 1355.8L1305.1 1024.1M1142.1 1425.6L1450.5 1021M1357.6 1352.4L1433.7 1260.9M1393.1 1411.9L1439.6 1349.2" stroke-width="1.3" opacity="1"/>
<path d="M797.6 1142.7L893.7 1023.1" stroke-width="1" opacity="0.8"/>
<path d="M798.7 1161.7L906.7 1022.2M979.9 1426.6L1285.8 1019.6" stroke-width="2.3" opacity="0.8"/>
<path d="M828.9 1155.1L899.7 1060.2M999.7 1312.6L1109.6 1166.9M1311.2 1424.4L1455.7 1235.9" stroke-width="2.3" opacity="0.3"/>
<path d="M840.7 1149.5L899.9 1070.1M1057.9 1427.8L1360.8 1018.4M1230.3 1424.6L1463.6 1121.3M1364.9 1378.6L1464.5 1250.4" stroke-width="1" opacity="0.3"/>
<path d="M797.3 1214.4L950.2 1023.4M800.6 1248.9L971.7 1020.8M829.2 1428.5L1048.6 1122.1M942.4 1422.1L1260.1 1024.1M1054.1 1429.7L1351.7 1016.5M1271.2 1426.1L1413.9 1231M1347.1 1422.3L1466.4 1276.8" stroke-width="2.3" opacity="1"/>
<path d="M796.4 1238.9L970.7 1024M865.1 1168.4L978.4 1022.3M818.2 1359.2L1060.7 1016.4M965.7 1420.1L1288.2 1026.1M1197.3 1428.2L1378 1173.1M1341.3 1427.5L1456.1 1260.5M1432.2 1424.3L1456.4 1390.8" stroke-width="1.7" opacity="1"/>
<path d="M795.8 1281.9L1005.3 1024.5M895.6 1426.1L1171.7 1060.3M1083.2 1375L1348 1019.3" stroke-width="0.8" opacity="0.45"/>
<path d="M799.6 1292.4L948.1 1098.8M863.4 1428.2L1165.1 1018M1006.2 1396.7L1216.1 1127.3M1019.3 1422.9L1274.1 1101.2M1391.1 1424.7L1463.4 1326.9" stroke-width="1" opacity="1"/>
<path d="M881.9 1229.4L1029.8 1018.4M898.2 1424.3L1210.3 1021.9M1129.8 1423L1394.5 1087.9M1299 1425.8L1442.1 1231.8M1403.3 1423L1460.4 1353.4" stroke-width="0.8" opacity="0.3"/>
<path d="M803.8 1353.3L1048.3 1018.4M1412.2 1424.9L1463.1 1353.4" stroke-width="0.8" opacity="0.8"/>
<path d="M808.8 1382L1083.5 1020.6M1247.7 1425.2L1462.8 1142.2" stroke-width="1.3" opacity="0.6"/>
<path d="M809.9 1423.9L1064.9 1067.4M844 1428.6L1144.6 1017.6M931.2 1366L1197.7 1021.9M1059.8 1422.3L1353.5 1053.7" stroke-width="0.8" opacity="1"/>
<path d="M921.7 1379.2L1096.1 1134.6M898.5 1418.3L1225.4 1027.9M1162.8 1429.9L1407.1 1084.2M1245 1429.5L1456.9 1126.9" stroke-width="1.3" opacity="0.45"/>
<path d="M956.8 1424.7L1189.6 1121.5M997.1 1423L1277.5 1067.9M1071 1420.3L1393.1 1025.9M1200.5 1425.2L1462.7 1081.5" stroke-width="1.7" opacity="0.45"/>
<path d="M964.5 1424.1L1213.4 1103.5" stroke-width="2.3" opacity="0.45"/>
<path d="M1152.8 1379.4L1423.3 1020" stroke-width="1.7" opacity="0.6"/>
<path d="M1170.7 1430.5L1413.7 1082.9M1254.7 1328.3L1435.8 1089M1385.1 1349.6L1461.5 1239.4" stroke-width="1.7" opacity="0.8"/>
<path d="M1175.3 1427.1L1460.3 1044.3" stroke-width="1.3" opacity="0.3"/>
<path d="M1253.3 1364.1L1456 1101" stroke-width="1.7" opacity="0.3"/>
<path d="M1253.7 1424.6L1397.1 1236.8M1387.2 1399.1L1465 1300.7" stroke-width="1" opacity="0.6"/>
<path d="M1362.7 1313.5L1463 1178.3" stroke-width="0.8" opacity="0.6"/>
<path d="M1448.4 1028.9L1457.2 1038.5L1401.8 1109.4" stroke-width="2.3" stroke-linejoin="miter"/>
<path d="M1449.9 1415.9L1458.9 1406.6M1420 1417.9L1431.3 1405.9" stroke-width="2.6"/>
</g>
<rect x="802.1" y="1027.2" width="658.9" height="391.8" rx="15" fill="none" stroke="#8cb5fd" stroke-width="1.3"/>
<rect x="862.7" y="116.3" width="536.3" height="267.7" fill="#fff"/>
<path d="M948.2 236.8L908 337.7L1045.3 337.7Z" fill="none" stroke="#1a1a1a" stroke-width="2.7" stroke-linejoin="miter"/>
<path d="M915.8 287L937.5 294.8" fill="none" stroke="#1a1a1a" stroke-width="2.4" stroke-linejoin="miter"/>
<path d="M1208.7 189.2L1150.6 337.7L1351 337.7Z" fill="none" stroke="#1a1a1a" stroke-width="2.7" stroke-linejoin="miter"/>
<path d="M1169.8 289.7L1304.6 289.7" fill="none" stroke="#1a1a1a" stroke-width="2.7" stroke-linejoin="miter"/>
<path d="M1178.8 233.9L1200.4 242.8" fill="none" stroke="#1a1a1a" stroke-width="2.4" stroke-linejoin="miter"/>
<text transform="translate(936.5 225) scale(0.93 1)" class="n" font-style="italic" font-size="24.3" fill="#1a1a1a" stroke="#1a1a1a" stroke-width="0.25">A′</text>
<text transform="translate(890.5 366.7) scale(0.93 1)" class="n" font-style="italic" font-size="24.3" fill="#1a1a1a" stroke="#1a1a1a" stroke-width="0.25">B′</text>
<text transform="translate(1042 366.7) scale(0.93 1)" class="n" font-style="italic" font-size="24.3" fill="#1a1a1a" stroke="#1a1a1a" stroke-width="0.25">C′</text>
<text transform="translate(1204.5 174.7) scale(0.93 1)" class="n" font-style="italic" font-size="24.3" fill="#1a1a1a" stroke="#1a1a1a" stroke-width="0.25">A</text>
<text transform="translate(1145 289.2) scale(0.93 1)" class="n" font-style="italic" font-size="24.3" fill="#1a1a1a" stroke="#1a1a1a" stroke-width="0.25">D</text>
<text transform="translate(1315 289.2) scale(0.93 1)" class="n" font-style="italic" font-size="24.3" fill="#1a1a1a" stroke="#1a1a1a" stroke-width="0.25">E</text>
<text transform="translate(1138.5 366.7) scale(0.93 1)" class="n" font-style="italic" font-size="24.3" fill="#1a1a1a" stroke="#1a1a1a" stroke-width="0.25">B</text>
<text transform="translate(1352 366.7) scale(0.93 1)" class="n" font-style="italic" font-size="24.3" fill="#1a1a1a" stroke="#1a1a1a" stroke-width="0.25">C</text>
<rect x="859.5" y="598" width="548.2" height="238.6" fill="#fff"/>
<path d="M941.4 689.6L895 799L1050 799Z" fill="none" stroke="#1a1a1a" stroke-width="2.4" stroke-linejoin="miter"/>
<path d="M960.6 708.9A27.2 27.2 0 0 1 930.8 714.6" fill="none" stroke="#1a1a1a" stroke-width="1.8"/>
<path d="M906.8 746.8L923.9 757" fill="none" stroke="#1a1a1a" stroke-width="2.2" stroke-linejoin="miter"/>
<path d="M1005.4 741.2L988.4 749.7" fill="none" stroke="#1a1a1a" stroke-width="2" stroke-linejoin="miter"/>
<path d="M1010.6 746.5L993.6 755" fill="none" stroke="#1a1a1a" stroke-width="2" stroke-linejoin="miter"/>
<path d="M1222.7 635L1152.7 799L1385 799Z" fill="none" stroke="#1a1a1a" stroke-width="2.4" stroke-linejoin="miter"/>
<path d="M1175.9 744.5L1330.5 744.5" fill="none" stroke="#1a1a1a" stroke-width="2.4" stroke-linejoin="miter"/>
<path d="M1240.6 653.1A25.4 25.4 0 0 1 1212.7 658.4" fill="none" stroke="#1a1a1a" stroke-width="1.8"/>
<path d="M1188 693.4L1205.5 701.8" fill="none" stroke="#1a1a1a" stroke-width="2.2" stroke-linejoin="miter"/>
<path d="M1286.3 686.7L1269.2 695.1" fill="none" stroke="#1a1a1a" stroke-width="2" stroke-linejoin="miter"/>
<path d="M1291.5 692L1274.5 700.5" fill="none" stroke="#1a1a1a" stroke-width="2" stroke-linejoin="miter"/>
<text transform="translate(934 681.8) scale(0.85 1)" class="n" font-style="italic" font-size="26" fill="#1a1a1a" stroke="#1a1a1a" stroke-width="0.25">A′</text>
<text transform="translate(883.5 829.3) scale(0.85 1)" class="n" font-style="italic" font-size="26" fill="#1a1a1a" stroke="#1a1a1a" stroke-width="0.25">B′</text>
<text transform="translate(1043.5 829.3) scale(0.85 1)" class="n" font-style="italic" font-size="26" fill="#1a1a1a" stroke="#1a1a1a" stroke-width="0.25">C′</text>
<text transform="translate(1214.5 626.4) scale(0.85 1)" class="n" font-style="italic" font-size="26" fill="#1a1a1a" stroke="#1a1a1a" stroke-width="0.25">A</text>
<text transform="translate(1149.5 746.8) scale(0.85 1)" class="n" font-style="italic" font-size="26" fill="#1a1a1a" stroke="#1a1a1a" stroke-width="0.25">D</text>
<text transform="translate(1339.5 746.8) scale(0.85 1)" class="n" font-style="italic" font-size="26" fill="#1a1a1a" stroke="#1a1a1a" stroke-width="0.25">E</text>
<text transform="translate(1141 828.6) scale(0.85 1)" class="n" font-style="italic" font-size="26" fill="#1a1a1a" stroke="#1a1a1a" stroke-width="0.25">B</text>
<text transform="translate(1376.5 828.6) scale(0.85 1)" class="n" font-style="italic" font-size="26" fill="#1a1a1a" stroke="#1a1a1a" stroke-width="0.25">C</text>
<text x="1192.5" y="738.9" class="n" font-size="21" fill="#1a1a1a">1</text>
<text x="1289" y="738.9" class="n" font-size="21" fill="#1a1a1a">1</text>
<rect x="855.7" y="1048" width="552.7" height="246.5" fill="#fff"/>
<path d="M930.7 1144.8L885.5 1252.1L1036.9 1252.1Z" fill="none" stroke="#1a1a1a" stroke-width="2.1" stroke-linejoin="miter"/>
<path d="M947.9 1162.1A24.4 24.4 0 0 1 921.2 1167.3" fill="none" stroke="#1a1a1a" stroke-width="1.6"/>
<path d="M897 1202.3L914.7 1210.1" fill="none" stroke="#1a1a1a" stroke-width="1.9" stroke-linejoin="miter"/>
<path d="M907.3 1252.1A21.8 21.8 0 0 0 894 1232" fill="none" stroke="#1a1a1a" stroke-width="1.5"/>
<path d="M913.1 1252.1A27.6 27.6 0 0 0 896.2 1226.7" fill="none" stroke="#1a1a1a" stroke-width="1.5"/>
<path d="M1207.3 1090.4L1138.5 1252.1L1367.1 1252.1Z" fill="none" stroke="#1a1a1a" stroke-width="2.1" stroke-linejoin="miter"/>
<path d="M1161.4 1198.2L1313.2 1198.2" fill="none" stroke="#1a1a1a" stroke-width="1.8" stroke-linejoin="miter"/>
<path d="M1225.8 1109.1A26.3 26.3 0 0 1 1197 1114.6" fill="none" stroke="#1a1a1a" stroke-width="1.6"/>
<path d="M1173.3 1148.2L1191 1157" fill="none" stroke="#1a1a1a" stroke-width="1.9" stroke-linejoin="miter"/>
<path d="M1182 1198.2A20.6 20.6 0 0 0 1169.5 1179.2" fill="none" stroke="#1a1a1a" stroke-width="1.5"/>
<path d="M1187.8 1198.2A26.4 26.4 0 0 0 1171.7 1173.9" fill="none" stroke="#1a1a1a" stroke-width="1.5"/>
<path d="M1160.7 1252.1A22.2 22.2 0 0 0 1147.2 1231.7" fill="none" stroke="#1a1a1a" stroke-width="1.5"/>
<path d="M1166.7 1252.1A28.2 28.2 0 0 0 1149.5 1226.2" fill="none" stroke="#1a1a1a" stroke-width="1.5"/>
<text transform="translate(923.5 1136.3) scale(0.85 1)" class="n" font-style="italic" font-size="32" fill="#1a1a1a" stroke="#1a1a1a" stroke-width="0.25">A′</text>
<text transform="translate(862 1281.9) scale(0.85 1)" class="n" font-style="italic" font-size="32" fill="#1a1a1a" stroke="#1a1a1a" stroke-width="0.25">B′</text>
<text transform="translate(1037.5 1279.6) scale(0.85 1)" class="n" font-style="italic" font-size="32" fill="#1a1a1a" stroke="#1a1a1a" stroke-width="0.25">C′</text>
<text transform="translate(1200.5 1083.1) scale(0.85 1)" class="n" font-style="italic" font-size="32" fill="#1a1a1a" stroke="#1a1a1a" stroke-width="0.25">A</text>
<text transform="translate(1136 1202.8) scale(0.85 1)" class="n" font-style="italic" font-size="32" fill="#1a1a1a" stroke="#1a1a1a" stroke-width="0.25">D</text>
<text transform="translate(1322.5 1201.7) scale(0.85 1)" class="n" font-style="italic" font-size="32" fill="#1a1a1a" stroke="#1a1a1a" stroke-width="0.25">E</text>
<text transform="translate(1122.5 1281.9) scale(0.85 1)" class="n" font-style="italic" font-size="32" fill="#1a1a1a" stroke="#1a1a1a" stroke-width="0.25">B</text>
<text transform="translate(1367 1281.9) scale(0.85 1)" class="n" font-style="italic" font-size="32" fill="#1a1a1a" stroke="#1a1a1a" stroke-width="0.25">C</text>
<text x="1189.5" y="1184.9" class="n" font-size="17" fill="#1a1a1a">1</text>
<text x="865.3" y="438.7" class="s" font-size="35" textLength="521" lengthAdjust="spacingAndGlyphs" fill="#0d0d0d" stroke="#0d0d0d" stroke-width="0.35">Trường hợp đồng dạng thứ nhất</text>
<text x="869" y="480" class="s" font-size="35" textLength="522.5" lengthAdjust="spacingAndGlyphs" fill="#0d0d0d" stroke="#0d0d0d" stroke-width="0.35">của tam giác (cạnh - cạnh - cạnh)</text>
<text x="847.5" y="891.3" class="s" font-size="35" textLength="562.5" lengthAdjust="spacingAndGlyphs" fill="#0d0d0d" stroke="#0d0d0d" stroke-width="0.35">Trường hợp đồng dạng thứ hai của</text>
<text x="917" y="932.5" class="s" font-size="35" textLength="435" lengthAdjust="spacingAndGlyphs" fill="#0d0d0d" stroke="#0d0d0d" stroke-width="0.35">tam giác (cạnh - góc - cạnh)</text>
<text x="851.8" y="1349.7" class="s" font-size="35" textLength="551" lengthAdjust="spacingAndGlyphs" fill="#0d0d0d" stroke="#0d0d0d" stroke-width="0.35">Trường hợp đồng dạng thứ ba của</text>
<text x="980" y="1390.7" class="s" font-size="35" textLength="304" lengthAdjust="spacingAndGlyphs" fill="#0d0d0d" stroke="#0d0d0d" stroke-width="0.35">tam giác (góc - góc)</text>
<rect x="1508.7" y="235.4" width="402.8" height="135.6" rx="13" fill="#fff" stroke="#ffabab" stroke-width="2"/>
<text x="1531" y="294.2" class="s" font-style="italic" font-size="23.2" fill="#111" textLength="64.1" lengthAdjust="spacingAndGlyphs"><tspan font-style="normal">Δ</tspan>ABC,</text>
<text x="1598.5" y="294.2" class="s" font-style="italic" font-size="23.2" fill="#111" textLength="90.9" lengthAdjust="spacingAndGlyphs"><tspan font-style="normal">Δ</tspan>A' B' C',</text>
<path d="M1693.4 289.7H1741.7" stroke="#222" stroke-width="1.5"/>
<text x="1695.3" y="279.6" class="s" font-style="italic" font-size="23.2" fill="#111" textLength="44.6" lengthAdjust="spacingAndGlyphs">A' B'</text>
<text x="1703.1" y="312.5" class="s" font-style="italic" font-size="23.2" fill="#111" textLength="29" lengthAdjust="spacingAndGlyphs">AB</text>
<path d="M1767.4 289.7H1815.5" stroke="#222" stroke-width="1.5"/>
<text x="1769.2" y="279.6" class="s" font-style="italic" font-size="23.2" fill="#111" textLength="44.6" lengthAdjust="spacingAndGlyphs">B' C'</text>
<text x="1777" y="312.5" class="s" font-style="italic" font-size="23.2" fill="#111" textLength="29" lengthAdjust="spacingAndGlyphs">BC</text>
<path d="M1841.9 289.7H1890.2" stroke="#222" stroke-width="1.5"/>
<text x="1843.8" y="279.6" class="s" font-style="italic" font-size="23.2" fill="#111" textLength="44.6" lengthAdjust="spacingAndGlyphs">A' C'</text>
<text x="1851.6" y="312.5" class="s" font-style="italic" font-size="23.2" fill="#111" textLength="29" lengthAdjust="spacingAndGlyphs">AC</text>
<path d="M1749.2 285.6h11.2M1749.2 290.4h11.2" fill="none" stroke="#111" stroke-width="1.6"/>
<path d="M1823.2 285.6h11.2M1823.2 290.4h11.2" fill="none" stroke="#111" stroke-width="1.6"/>
<path d="M1530 333.9H1546.8M1530 338.7H1546.8M1543 329.8Q1546.4 334.4 1551 336.3Q1546.4 338.2 1543 342.8" fill="none" stroke="#111" stroke-width="1.6"/>
<text x="1559.4" y="343.9" class="s" font-style="italic" font-size="23.2" fill="#111" textLength="84.2" lengthAdjust="spacingAndGlyphs"><tspan font-style="normal">Δ</tspan>A' B' C'</text>
<path d="M1649 335.8C1649.8 340 1652.8 339.5 1654 337.3S1658 334.6 1659 338.8" fill="none" stroke="#111" stroke-width="1.4"/>
<text x="1665" y="343.9" class="s" font-style="italic" font-size="23.2" fill="#111" textLength="60.4" lengthAdjust="spacingAndGlyphs"><tspan font-style="normal">Δ</tspan>ABC</text>
<text x="1728.3" y="343.9" class="s" font-size="23.2" fill="#111" textLength="56" lengthAdjust="spacingAndGlyphs">(<tspan font-style="italic">c.c.c</tspan>)</text>
<rect x="1514.4" y="706.4" width="402.2" height="124.6" rx="13" fill="#fff" stroke="#ff7d33" stroke-width="2"/>
<path d="M1542.2 730.7C1535.6 730.7 1536.6 734.7 1536.6 740.7V762.5C1536.6 767.5 1534.6 769.5 1532 770.5C1534.6 771.5 1536.6 773.5 1536.6 778.5V800.3C1536.6 806.3 1535.6 810.3 1542.2 810.3" fill="none" stroke="#111" stroke-width="1.1"/>
<text x="1543.6" y="748" class="s" font-style="italic" font-size="21.7" fill="#111" textLength="56.4" lengthAdjust="spacingAndGlyphs"><tspan font-style="normal">Δ</tspan>ABC,</text>
<text x="1603.1" y="748" class="s" font-style="italic" font-size="21.7" fill="#111" textLength="80.1" lengthAdjust="spacingAndGlyphs"><tspan font-style="normal">Δ</tspan>A' B' C';</text>
<path d="M1543.6 786.5H1586.8" stroke="#222" stroke-width="1.5"/>
<text x="1544.7" y="779.4" class="s" font-style="italic" font-size="21.7" fill="#111" textLength="41" lengthAdjust="spacingAndGlyphs">A' B'</text>
<text x="1552.2" y="808.9" class="s" font-style="italic" font-size="21.7" fill="#111" textLength="26" lengthAdjust="spacingAndGlyphs">AB</text>
<path d="M1609.1 786.5H1652.4" stroke="#222" stroke-width="1.5"/>
<text x="1610.2" y="779.4" class="s" font-style="italic" font-size="21.7" fill="#111" textLength="41" lengthAdjust="spacingAndGlyphs">A' C'</text>
<text x="1617.8" y="808.9" class="s" font-style="italic" font-size="21.7" fill="#111" textLength="26" lengthAdjust="spacingAndGlyphs">AC</text>
<path d="M1591.9 784.6h10.8M1591.9 789.4h10.8" fill="none" stroke="#111" stroke-width="1.4"/>
<text x="1655.3" y="792.6" class="s" font-style="italic" font-size="21.7" fill="#111">,</text>
<text x="1666" y="792.6" class="s" font-style="italic" font-size="21.7" fill="#111">A'</text>
<path d="M1666 775.1Q1672.5 769.9 1679 775.1" fill="none" stroke="#111" stroke-width="1.1"/>
<path d="M1688 784.6h10.5M1688 789.4h10.5" fill="none" stroke="#111" stroke-width="1.4"/>
<text x="1704.5" y="792.6" class="s" font-style="italic" font-size="21.7" fill="#111">A</text>
<path d="M1708.5 774.1L1712.5 770.5L1716.5 774.1" fill="none" stroke="#111" stroke-width="1.1" stroke-linejoin="miter"/>
<path d="M1721.8 766.4H1737.2M1721.8 770.8H1737.2M1733.7 762.6Q1736.8 766.8 1741 768.6Q1736.8 770.4 1733.7 774.6" fill="none" stroke="#111" stroke-width="1.6"/>
<text x="1746.5" y="775.4" class="s" font-style="italic" font-size="21.7" fill="#111" textLength="74.7" lengthAdjust="spacingAndGlyphs"><tspan font-style="normal">Δ</tspan>A' B' C'</text>
<path d="M1826 768.3C1826.7 772.5 1829.3 772 1830.4 769.8S1833.9 767.1 1834.8 771.3" fill="none" stroke="#111" stroke-width="1.4"/>
<text x="1841.5" y="775.4" class="s" font-style="italic" font-size="21.7" fill="#111" textLength="52.7" lengthAdjust="spacingAndGlyphs"><tspan font-style="normal">Δ</tspan>ABC</text>
<rect x="1510.7" y="1166.8" width="402.3" height="112.8" rx="13" fill="#fff" stroke="#8cb5fd" stroke-width="2"/>
<path d="M1539 1188.7C1532 1188.7 1533 1192.7 1533 1198.7V1214.2C1533 1219.2 1531 1221.2 1528 1222.2C1531 1223.2 1533 1225.2 1533 1230.2V1245.7C1533 1251.7 1532 1255.7 1539 1255.7" fill="none" stroke="#111" stroke-width="1.1"/>
<text x="1540.6" y="1208" class="s" font-style="italic" font-size="22.6" fill="#111" textLength="61.4" lengthAdjust="spacingAndGlyphs"><tspan font-style="normal">Δ</tspan>ABC,</text>
<text x="1605.7" y="1208" class="s" font-style="italic" font-size="22.6" fill="#111" textLength="87.7" lengthAdjust="spacingAndGlyphs"><tspan font-style="normal">Δ</tspan>A' B' C';</text>
<text x="1540.6" y="1247.5" class="s" font-style="italic" font-size="22.6" fill="#111">A'</text>
<path d="M1540.5 1229.3Q1547.5 1223.7 1554.5 1229.3" fill="none" stroke="#111" stroke-width="1.1"/>
<path d="M1565.5 1239.1h12.2M1565.5 1243.9h12.2" fill="none" stroke="#111" stroke-width="1.4"/>
<text x="1584.2" y="1247.5" class="s" font-style="italic" font-size="22.6" fill="#111">A</text>
<path d="M1588.2 1228.3L1592.5 1224.5L1596.8 1228.3" fill="none" stroke="#111" stroke-width="1.1" stroke-linejoin="miter"/>
<text x="1598.5" y="1247.5" class="s" font-style="italic" font-size="22.6" fill="#111">,</text>
<text x="1607.6" y="1247.5" class="s" font-style="italic" font-size="22.6" fill="#111">B'</text>
<path d="M1609 1229.3Q1616 1223.7 1623 1229.3" fill="none" stroke="#111" stroke-width="1.1"/>
<path d="M1632.5 1239.1h12.2M1632.5 1243.9h12.2" fill="none" stroke="#111" stroke-width="1.4"/>
<text x="1650.7" y="1247.5" class="s" font-style="italic" font-size="22.6" fill="#111">B</text>
<path d="M1655.2 1228.3L1659.5 1224.5L1663.8 1228.3" fill="none" stroke="#111" stroke-width="1.1" stroke-linejoin="miter"/>
<path d="M1697.8 1217.8H1714.5M1697.8 1222.6H1714.5M1710.8 1213.7Q1714.1 1218.3 1718.7 1220.2Q1714.1 1222.1 1710.8 1226.7" fill="none" stroke="#111" stroke-width="1.6"/>
<text x="1725.8" y="1227.3" class="s" font-style="italic" font-size="22.6" fill="#111" textLength="81.6" lengthAdjust="spacingAndGlyphs"><tspan font-style="normal">Δ</tspan>A' B' C'</text>
<path d="M1813 1219.8C1813.8 1224 1816.6 1223.5 1817.8 1221.3S1821.6 1218.6 1822.6 1222.8" fill="none" stroke="#111" stroke-width="1.4"/>
<text x="1828.3" y="1227.3" class="s" font-style="italic" font-size="22.6" fill="#111" textLength="57.4" lengthAdjust="spacingAndGlyphs"><tspan font-style="normal">Δ</tspan>ABC</text>
<rect x="1966.8" y="625.7" width="494.2" height="286.8" rx="16" fill="#fff" stroke="#ff7d33" stroke-width="2"/>
<path d="M2063.8 703.7L2038 764.9L2124.5 764.9Z" fill="none" stroke="#222" stroke-width="1.4" stroke-linejoin="miter"/>
<path d="M2063.8 703.7L2081.1 764.9" fill="none" stroke="#e3242e" stroke-width="1.1" stroke-linejoin="miter"/>
<path d="M2060 759.8L2060 770" fill="none" stroke="#222" stroke-width="1.1" stroke-linejoin="miter"/>
<path d="M2104.1 759.8L2104.1 770" fill="none" stroke="#222" stroke-width="1.1" stroke-linejoin="miter"/>
<text transform="translate(2060 696.9) scale(0.85 1)" class="n" font-style="italic" font-size="14.5" fill="#222" stroke="#222" stroke-width="0.25">A</text>
<text transform="translate(2029 781.4) scale(0.85 1)" class="n" font-style="italic" font-size="14.5" fill="#222" stroke="#222" stroke-width="0.25">B</text>
<text transform="translate(2078.5 781.4) scale(0.85 1)" class="n" font-style="italic" font-size="14.5" fill="#222" stroke="#222" stroke-width="0.25">M</text>
<text transform="translate(2124.5 781.4) scale(0.85 1)" class="n" font-style="italic" font-size="14.5" fill="#222" stroke="#222" stroke-width="0.25">C</text>
<path d="M2220.8 672.8L2181.8 764.9L2312.2 764.9Z" fill="none" stroke="#222" stroke-width="1.4" stroke-linejoin="miter"/>
<path d="M2220.8 672.8L2246.9 764.9" fill="none" stroke="#e3242e" stroke-width="1.1" stroke-linejoin="miter"/>
<path d="M2216.7 759.8L2216.7 770" fill="none" stroke="#222" stroke-width="1" stroke-linejoin="miter"/>
<path d="M2219 759.8L2219 770" fill="none" stroke="#222" stroke-width="1" stroke-linejoin="miter"/>
<path d="M2276.3 759.8L2276.3 770" fill="none" stroke="#222" stroke-width="1" stroke-linejoin="miter"/>
<path d="M2278.7 759.8L2278.7 770" fill="none" stroke="#222" stroke-width="1" stroke-linejoin="miter"/>
<text transform="translate(2216.5 666.5) scale(0.85 1)" class="n" font-style="italic" font-size="14.5" fill="#222" stroke="#222" stroke-width="0.25">A′</text>
<text transform="translate(2172.5 781.4) scale(0.85 1)" class="n" font-style="italic" font-size="14.5" fill="#222" stroke="#222" stroke-width="0.25">B′</text>
<text transform="translate(2243.5 781.4) scale(0.85 1)" class="n" font-style="italic" font-size="14.5" fill="#222" stroke="#222" stroke-width="0.25">M′</text>
<text transform="translate(2312 779.4) scale(0.85 1)" class="n" font-style="italic" font-size="14.5" fill="#222" stroke="#222" stroke-width="0.25">C′</text>
<text x="1998.6" y="825" class="s" font-size="20.2" fill="#111" textLength="32.3" lengthAdjust="spacingAndGlyphs">Nếu</text>
<text x="2038.2" y="825" class="s" font-style="italic" font-size="17" fill="#111" textLength="61" lengthAdjust="spacingAndGlyphs"><tspan font-style="normal">Δ</tspan>A' B' C'</text>
<path d="M2103.3 819.4C2103.9 822.7 2106.2 822.3 2107.1 820.6S2110.1 818.5 2110.9 821.8" fill="none" stroke="#111" stroke-width="1.1"/>
<text x="2114.5" y="825" class="s" font-style="italic" font-size="17" fill="#111" textLength="43.2" lengthAdjust="spacingAndGlyphs"><tspan font-style="normal">Δ</tspan>ABC</text>
<text x="2166.1" y="825" class="s" font-size="20.2" fill="#111" textLength="190.9" lengthAdjust="spacingAndGlyphs">với tỉ số đồng dạng k thì</text>
<path d="M2365.5 820.9H2405.5" stroke="#111" stroke-width="1.3"/>
<text x="2368" y="815.5" class="s" font-style="italic" font-size="14.5" fill="#111" textLength="36" lengthAdjust="spacingAndGlyphs">A' M'</text>
<text x="2373" y="837.5" class="s" font-style="italic" font-size="14.5" fill="#111" textLength="25" lengthAdjust="spacingAndGlyphs">AM</text>
<path d="M2410 819.8h8.5M2410 823.2h8.5" fill="none" stroke="#111" stroke-width="1"/>
<text x="2423.5" y="825" class="s" font-style="italic" font-size="15.5" fill="#111">k</text>
<text x="2434.5" y="825" class="s" font-size="15.5" fill="#111">.</text>
<text x="1998.6" y="874.5" class="s" font-size="20.2" fill="#111" textLength="298.7" lengthAdjust="spacingAndGlyphs">(AM, A’M’ là các đường trung tuyến)</text>
<rect x="1962.8" y="1064.8" width="501" height="317.2" rx="16" fill="#fff" stroke="#8cb5fd" stroke-width="2"/>
<path d="M2067.5 1144.8L2041 1226.1L2173.4 1227Z" fill="none" stroke="#1a1a1a" stroke-width="1.5" stroke-linejoin="miter"/>
<path d="M2067.5 1144.8L2092.5 1226.5" fill="none" stroke="#e3242e" stroke-width="1.3" stroke-linejoin="miter"/>
<path d="M2072.3 1160.4A16.3 16.3 0 0 1 2062.4 1160.3" fill="none" stroke="#1a1a1a" stroke-width="1.2"/>
<path d="M2086.8 1159.8A24.4 24.4 0 0 1 2074.6 1168.1" fill="none" stroke="#1a1a1a" stroke-width="1.2"/>
<text transform="translate(2062 1139.9) scale(0.85 1)" class="n" font-style="italic" font-size="18.5" fill="#1a1a1a" stroke="#1a1a1a" stroke-width="0.25">A</text>
<text transform="translate(2030 1246.5) scale(0.85 1)" class="n" font-style="italic" font-size="18.5" fill="#1a1a1a" stroke="#1a1a1a" stroke-width="0.25">B</text>
<text transform="translate(2094 1246.5) scale(0.85 1)" class="n" font-style="italic" font-size="18.5" fill="#1a1a1a" stroke="#1a1a1a" stroke-width="0.25">D</text>
<text transform="translate(2175 1246.5) scale(0.85 1)" class="n" font-style="italic" font-size="18.5" fill="#1a1a1a" stroke="#1a1a1a" stroke-width="0.25">C</text>
<path d="M2268 1113.4L2230.6 1226.1L2415.8 1227.9Z" fill="none" stroke="#1a1a1a" stroke-width="1.5" stroke-linejoin="miter"/>
<path d="M2268 1113.4L2302.7 1226.6" fill="none" stroke="#e3242e" stroke-width="1.3" stroke-linejoin="miter"/>
<path d="M2274 1133.1A20.6 20.6 0 0 1 2261.5 1133" fill="none" stroke="#1a1a1a" stroke-width="1.2"/>
<path d="M2291.3 1131.5A29.5 29.5 0 0 1 2276.6 1141.6" fill="none" stroke="#1a1a1a" stroke-width="1.2"/>
<text transform="translate(2262.5 1104.7) scale(0.85 1)" class="n" font-style="italic" font-size="18.5" fill="#1a1a1a" stroke="#1a1a1a" stroke-width="0.25">A′</text>
<text transform="translate(2220 1246.5) scale(0.85 1)" class="n" font-style="italic" font-size="18.5" fill="#1a1a1a" stroke="#1a1a1a" stroke-width="0.25">B′</text>
<text transform="translate(2300 1246.5) scale(0.85 1)" class="n" font-style="italic" font-size="18.5" fill="#1a1a1a" stroke="#1a1a1a" stroke-width="0.25">D′</text>
<text transform="translate(2418 1246.5) scale(0.85 1)" class="n" font-style="italic" font-size="18.5" fill="#1a1a1a" stroke="#1a1a1a" stroke-width="0.25">C′</text>
<text x="1993.1" y="1302.7" class="s" font-size="20.2" fill="#111" textLength="32.4" lengthAdjust="spacingAndGlyphs">Nếu</text>
<text x="2033.6" y="1302.7" class="s" font-style="italic" font-size="17" fill="#111" textLength="61" lengthAdjust="spacingAndGlyphs"><tspan font-style="normal">Δ</tspan>A' B' C'</text>
<path d="M2098.5 1297.1C2099.1 1300.4 2101.4 1300 2102.3 1298.3S2105.3 1296.2 2106.1 1299.5" fill="none" stroke="#111" stroke-width="1.1"/>
<text x="2110" y="1302.7" class="s" font-style="italic" font-size="17" fill="#111" textLength="43.8" lengthAdjust="spacingAndGlyphs"><tspan font-style="normal">Δ</tspan>ABC</text>
<text x="2162.7" y="1302.7" class="s" font-size="20.2" fill="#111" textLength="192.3" lengthAdjust="spacingAndGlyphs">với tỉ số đồng dạng k thì</text>
<path d="M2364.6 1299.4H2400" stroke="#111" stroke-width="1.3"/>
<text x="2366.5" y="1293.5" class="s" font-style="italic" font-size="14.5" fill="#111" textLength="32" lengthAdjust="spacingAndGlyphs">A' D'</text>
<text x="2372.5" y="1316" class="s" font-style="italic" font-size="14.5" fill="#111" textLength="20.5" lengthAdjust="spacingAndGlyphs">AD</text>
<path d="M2405 1298.3h8.5M2405 1301.7h8.5" fill="none" stroke="#111" stroke-width="1"/>
<text x="2418.5" y="1302.7" class="s" font-style="italic" font-size="15.5" fill="#111">k</text>
<text x="2429.5" y="1302.7" class="s" font-size="15.5" fill="#111">.</text>
<text x="1993.1" y="1351.7" class="s" font-size="20.2" fill="#111" textLength="281.4" lengthAdjust="spacingAndGlyphs">(AD, A’D’ là các đường phân giác)</text>
<g class="s" font-weight="bold" font-size="28.5" fill="#c3c3c3" stroke="#c3c3c3" stroke-width="1" stroke-linejoin="round" opacity=".26" text-anchor="middle">
<text transform="translate(175 208) rotate(-18)" x="0" y="8" textLength="199" lengthAdjust="spacingAndGlyphs">Loigiaihay.com</text>
<text transform="translate(456 215) rotate(-18)" x="0" y="8" textLength="199" lengthAdjust="spacingAndGlyphs">Loigiaihay.com</text>
<text transform="translate(319 435) rotate(-18)" x="0" y="8" textLength="199" lengthAdjust="spacingAndGlyphs">Loigiaihay.com</text>
<text transform="translate(1141 556) rotate(-18)" x="0" y="8" textLength="199" lengthAdjust="spacingAndGlyphs">Loigiaihay.com</text>
<text transform="translate(1423 564) rotate(-18)" x="0" y="8" textLength="199" lengthAdjust="spacingAndGlyphs">Loigiaihay.com</text>
<text transform="translate(185 660) rotate(-18)" x="0" y="8" textLength="199" lengthAdjust="spacingAndGlyphs">Loigiaihay.com</text>
<text transform="translate(465 655) rotate(-18)" x="0" y="8" textLength="199" lengthAdjust="spacingAndGlyphs">Loigiaihay.com</text>
<text transform="translate(1285 782) rotate(-18)" x="0" y="8" textLength="199" lengthAdjust="spacingAndGlyphs">Loigiaihay.com</text>
<text transform="translate(2107 907) rotate(-18)" x="0" y="8" textLength="199" lengthAdjust="spacingAndGlyphs">Loigiaihay.com</text>
<text transform="translate(2388 914) rotate(-18)" x="0" y="8" textLength="199" lengthAdjust="spacingAndGlyphs">Loigiaihay.com</text>
<text transform="translate(1150 1010) rotate(-18)" x="0" y="8" textLength="199" lengthAdjust="spacingAndGlyphs">Loigiaihay.com</text>
<text transform="translate(1432 1004) rotate(-18)" x="0" y="8" textLength="199" lengthAdjust="spacingAndGlyphs">Loigiaihay.com</text>
<text transform="translate(2253 1133) rotate(-18)" x="0" y="8" textLength="199" lengthAdjust="spacingAndGlyphs">Loigiaihay.com</text>
<text transform="translate(2117 1359) rotate(-18)" x="0" y="8" textLength="199" lengthAdjust="spacingAndGlyphs">Loigiaihay.com</text>
<text transform="translate(2398 1354) rotate(-18)" x="0" y="8" textLength="199" lengthAdjust="spacingAndGlyphs">Loigiaihay.com</text>
</g>
</svg></body></html>
